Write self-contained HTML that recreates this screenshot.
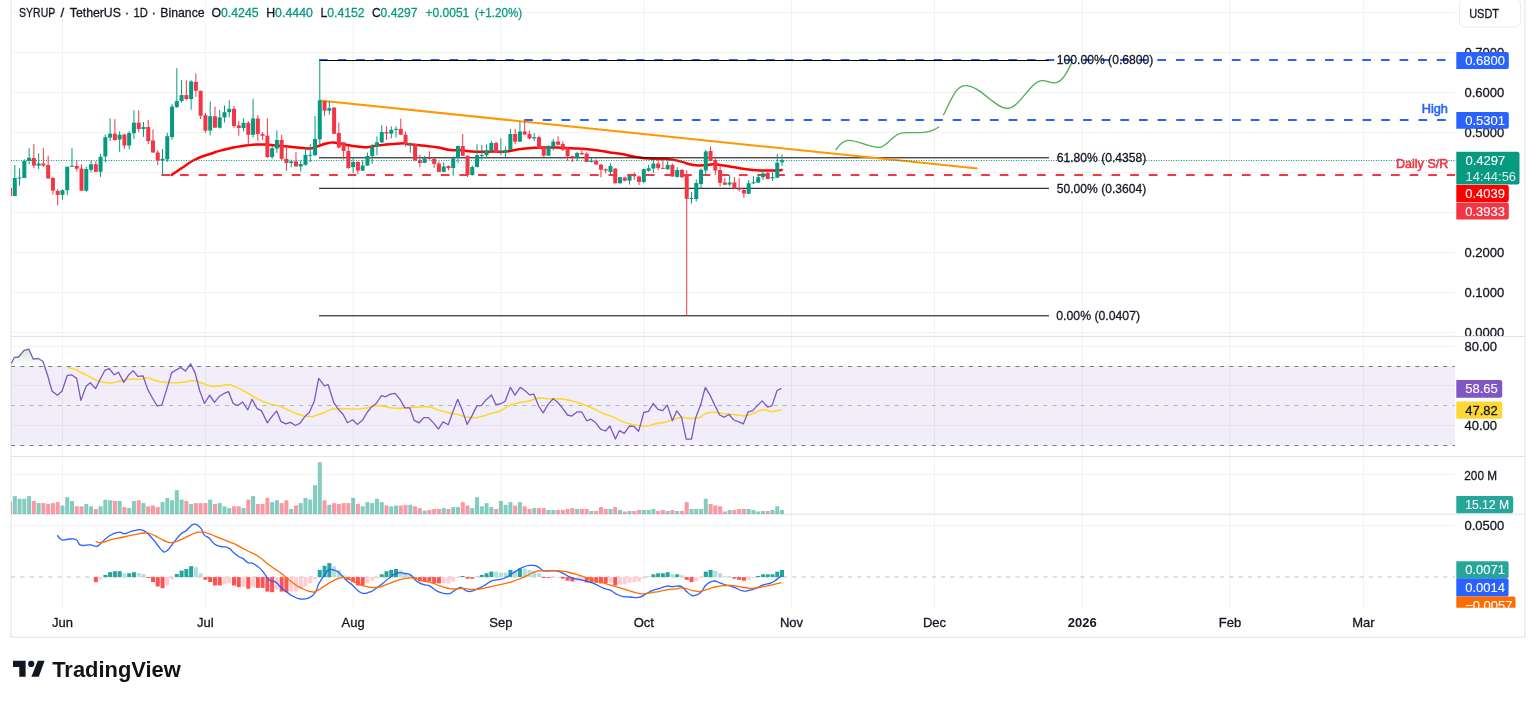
<!DOCTYPE html><html><head><meta charset="utf-8"><style>
html,body{margin:0;padding:0;background:#fff;}body{width:1536px;height:701px;overflow:hidden;position:relative;font-family:"Liberation Sans", sans-serif;}
svg{position:absolute;left:0;top:0;filter:blur(0.35px);}
</style></head><body>
<svg width="1536" height="701" viewBox="0 0 1536 701" font-family='"Liberation Sans", sans-serif'>
<defs><clipPath id="cp"><rect x="11" y="0" width="1444" height="336"/></clipPath><clipPath id="cr"><rect x="11" y="337" width="1444" height="119"/></clipPath><clipPath id="cv"><rect x="11" y="457" width="1444" height="57"/></clipPath><clipPath id="cm"><rect x="11" y="515" width="1444" height="92"/></clipPath><clipPath id="ca"><rect x="1455" y="515" width="70" height="92.7"/></clipPath><linearGradient id="ob" x1="0" y1="0" x2="0" y2="1"><stop offset="0" stop-color="#4caf50" stop-opacity="0.25"/><stop offset="1" stop-color="#4caf50" stop-opacity="0"/></linearGradient></defs>
<rect x="61.95" y="0" width="1" height="608" fill="#f1f2f3"/>
<rect x="204.91" y="0" width="1" height="608" fill="#f1f2f3"/>
<rect x="352.64" y="0" width="1" height="608" fill="#f1f2f3"/>
<rect x="500.37" y="0" width="1" height="608" fill="#f1f2f3"/>
<rect x="643.33" y="0" width="1" height="608" fill="#f1f2f3"/>
<rect x="791.06" y="0" width="1" height="608" fill="#f1f2f3"/>
<rect x="934.02" y="0" width="1" height="608" fill="#f1f2f3"/>
<rect x="1081.75" y="0" width="1" height="608" fill="#f1f2f3"/>
<rect x="1229.48" y="0" width="1" height="608" fill="#f1f2f3"/>
<rect x="1362.91" y="0" width="1" height="608" fill="#f1f2f3"/>
<rect x="11" y="12" width="1444" height="1" fill="#f1f2f3"/>
<rect x="11" y="52" width="1444" height="1" fill="#f1f2f3"/>
<rect x="11" y="92" width="1444" height="1" fill="#f1f2f3"/>
<rect x="11" y="132" width="1444" height="1" fill="#f1f2f3"/>
<rect x="11" y="172" width="1444" height="1" fill="#f1f2f3"/>
<rect x="11" y="212" width="1444" height="1" fill="#f1f2f3"/>
<rect x="11" y="252" width="1444" height="1" fill="#f1f2f3"/>
<rect x="11" y="292" width="1444" height="1" fill="#f1f2f3"/>
<rect x="11" y="332" width="1444" height="1" fill="#f1f2f3"/>
<rect x="11" y="346" width="1444" height="1" fill="#f1f2f3"/>
<rect x="11" y="385" width="1444" height="1" fill="#f1f2f3"/>
<rect x="11" y="425" width="1444" height="1" fill="#f1f2f3"/>
<rect x="11" y="474" width="1444" height="1" fill="#f1f2f3"/>
<rect x="11" y="525" width="1444" height="1" fill="#f1f2f3"/>
<rect x="10" y="0" width="2" height="638" fill="#f1f1f1"/>
<rect x="1524" y="0" width="1.6" height="638" fill="#ececec"/>
<rect x="10" y="636.6" width="1515.6" height="1.4" fill="#ececec"/>
<rect x="11" y="335.9" width="1513" height="1.1" fill="#e0e3eb"/>
<rect x="11" y="455.9" width="1513" height="1.1" fill="#e0e3eb"/>
<rect x="11" y="513.6" width="1513" height="1.1" fill="#e0e3eb"/>
<g clip-path="url(#cp)">
<path fill="none" stroke="#ff0000" stroke-width="2.5" stroke-linejoin="round" stroke-linecap="round" d="M171.7,175 C175.47,172.43 175.13,172.47 183,167.3 C190.87,162.13 186.3,163.93 195.3,159.5 C204.3,155.07 200.43,157.23 210,154 C219.57,150.77 212.13,152.6 224,149.8 C235.87,147 232.7,147.37 245.6,145.6 C258.5,143.83 254.23,144.7 262.7,144.5 C271.17,144.3 262.57,144.3 271,145 C279.43,145.7 278.33,145.67 288,146.6 C297.67,147.53 292.2,147.27 300,147.8 C307.8,148.33 305.23,148.8 311.4,148.2 C317.57,147.6 312.8,147.73 318.5,146 C324.2,144.27 322.3,144 328.5,143 C334.7,142 330.9,142.33 337.1,143 C343.3,143.67 339.5,143.73 347.1,145 C354.7,146.27 352.77,146.13 359.9,146.8 C367.03,147.47 361.83,147.5 368.5,147 C375.17,146.5 369.43,146.47 379.9,145.3 C390.37,144.13 390.4,143.87 399.9,143.5 C409.4,143.13 401.27,143.5 408.4,144.2 C415.53,144.9 411.8,144.57 421.3,145.6 C430.8,146.63 427.33,145.87 436.9,147.3 C446.47,148.73 441.93,148.9 450,149.9 C458.07,150.9 453.73,149.73 461.1,150.3 C468.47,150.87 464.73,151.1 472.1,151.6 C479.47,152.1 475.8,151.8 483.2,151.8 C490.6,151.8 486.93,151.67 494.3,151.6 C501.67,151.53 497.93,152.23 505.3,151.6 C512.67,150.97 509,150.8 516.4,149.7 C523.8,148.6 520.13,148.97 527.5,148.3 C534.87,147.63 531.13,147.97 538.5,147.7 C545.87,147.43 542.2,147.5 549.6,147.5 C557,147.5 553.33,147.43 560.7,147.7 C568.07,147.97 564.33,147.93 571.7,148.3 C579.07,148.67 575.4,148.27 582.8,148.8 C590.2,149.33 586.5,149 593.9,149.9 C601.3,150.8 598.97,150.53 605,151.5 C611.03,152.47 606.43,151.97 612,152.8 C617.57,153.63 614.57,152.77 621.7,154 C628.83,155.23 625.57,155.1 633.4,156.5 C641.23,157.9 637.37,157.43 645.2,158.2 C653.03,158.97 649.1,158.43 656.9,158.8 C664.7,159.17 660.8,158.43 668.6,159.3 C676.4,160.17 672.5,159.6 680.3,161.4 C688.1,163.2 684.17,163.43 692,164.7 C699.83,165.97 696.77,165.33 703.8,165.2 C710.83,165.07 707.27,164.3 713.1,164.3 C718.93,164.3 714.67,164.3 721.3,165.2 C727.93,166.1 725.17,165.73 733,167 C740.83,168.27 736.97,167.93 744.8,169 C752.63,170.07 748.7,169.7 756.5,170.2 C764.3,170.7 762.33,170.4 768.2,170.5 C774.07,170.6 769.6,170.67 774.1,170.5 C778.6,170.33 779.17,170.17 781.7,170"/>
<line x1="319" y1="60" x2="1455" y2="60" stroke="#2962ff" stroke-width="2" stroke-dasharray="8.7 9.93"/>
<line x1="524.2" y1="120" x2="1455" y2="120" stroke="#2962ff" stroke-width="2" stroke-dasharray="8.7 9.93"/>
<line x1="161.4" y1="175" x2="1455" y2="175" stroke="#f23645" stroke-width="2" stroke-dasharray="8.7 9.93"/>
<line x1="319" y1="60.5" x2="1049" y2="60.5" stroke="#000" stroke-width="1"/>
<line x1="319" y1="157.8" x2="1049" y2="157.8" stroke="#000" stroke-width="1"/>
<line x1="319" y1="188.3" x2="1049" y2="188.3" stroke="#000" stroke-width="1"/>
<line x1="319" y1="315.8" x2="1049" y2="315.8" stroke="#000" stroke-width="1"/>
<line x1="319.8" y1="100.5" x2="977.5" y2="168.5" stroke="#ff9800" stroke-width="2"/>
<path d="M835.5,150.2 C839,145 843,140.5 848.5,140.4 C858,140.3 870,147.8 879.3,147.3 C888,146.8 892,133.5 903,132.8 C912,132.2 918,133.2 924,132.4 C930,131.5 936,129 939.1,126.7" fill="none" stroke="#4caf50" stroke-width="1.3"/>
<path d="M943.2,115.3 C950,103 955,86 964.9,85.6 C980,85 995,108.5 1007.1,108.5 C1020,108.5 1030,80.6 1042.5,80.6 C1048,80.6 1050,83.5 1055,82.9 C1063,82 1068,70 1072.2,62" fill="none" stroke="#4caf50" stroke-width="1.3"/>
<rect x="9.53" y="186" width="1" height="11" fill="#f23645"/>
<rect x="8.03" y="188" width="4" height="8" fill="#f23645"/>
<rect x="14.3" y="165.1" width="1" height="30.9" fill="#089981"/>
<rect x="12.8" y="178" width="4" height="18" fill="#089981"/>
<rect x="19.06" y="168.5" width="1" height="17.3" fill="#089981"/>
<rect x="17.56" y="177.5" width="4" height="1" fill="#089981"/>
<rect x="23.83" y="159.3" width="1" height="18.7" fill="#089981"/>
<rect x="22.33" y="160.9" width="4" height="17.1" fill="#089981"/>
<rect x="28.6" y="148.2" width="1" height="16.1" fill="#089981"/>
<rect x="27.1" y="157.7" width="4" height="3.2" fill="#089981"/>
<rect x="33.36" y="143.9" width="1" height="24.3" fill="#f23645"/>
<rect x="31.86" y="158" width="4" height="7.6" fill="#f23645"/>
<rect x="38.13" y="153.3" width="1" height="15.7" fill="#089981"/>
<rect x="36.63" y="163.5" width="4" height="2.1" fill="#089981"/>
<rect x="42.89" y="148.2" width="1" height="18.5" fill="#f23645"/>
<rect x="41.39" y="163.5" width="4" height="2.1" fill="#f23645"/>
<rect x="47.66" y="155.7" width="1" height="23.3" fill="#f23645"/>
<rect x="46.16" y="165" width="4" height="13.4" fill="#f23645"/>
<rect x="52.42" y="176.5" width="1" height="18.1" fill="#f23645"/>
<rect x="50.92" y="178" width="4" height="12.7" fill="#f23645"/>
<rect x="57.19" y="189" width="1" height="16.4" fill="#f23645"/>
<rect x="55.69" y="191" width="4" height="3.9" fill="#f23645"/>
<rect x="61.95" y="189.4" width="1" height="10.2" fill="#089981"/>
<rect x="60.45" y="190.2" width="4" height="4.7" fill="#089981"/>
<rect x="66.72" y="166.7" width="1" height="28.5" fill="#089981"/>
<rect x="65.22" y="166.7" width="4" height="23.5" fill="#089981"/>
<rect x="71.48" y="148.2" width="1" height="18.5" fill="#089981"/>
<rect x="69.98" y="165.7" width="4" height="1" fill="#089981"/>
<rect x="76.25" y="160" width="1" height="11.4" fill="#f23645"/>
<rect x="74.75" y="165.9" width="4" height="2.8" fill="#f23645"/>
<rect x="81.01" y="164.3" width="1" height="26.7" fill="#f23645"/>
<rect x="79.51" y="168.5" width="4" height="22.2" fill="#f23645"/>
<rect x="85.78" y="166.7" width="1" height="25.1" fill="#089981"/>
<rect x="84.28" y="169" width="4" height="21.7" fill="#089981"/>
<rect x="90.55" y="160.4" width="1" height="12.1" fill="#089981"/>
<rect x="89.05" y="164.3" width="4" height="5.5" fill="#089981"/>
<rect x="95.31" y="161.2" width="1" height="10.8" fill="#f23645"/>
<rect x="93.81" y="164.3" width="4" height="7.5" fill="#f23645"/>
<rect x="100.08" y="154.1" width="1" height="22.8" fill="#089981"/>
<rect x="98.58" y="156.8" width="4" height="15" fill="#089981"/>
<rect x="104.84" y="134.5" width="1" height="27.5" fill="#089981"/>
<rect x="103.34" y="137.2" width="4" height="19.3" fill="#089981"/>
<rect x="109.61" y="118.5" width="1" height="22.5" fill="#089981"/>
<rect x="108.11" y="133.7" width="4" height="3.9" fill="#089981"/>
<rect x="114.37" y="119.1" width="1" height="21.7" fill="#f23645"/>
<rect x="112.87" y="133.7" width="4" height="6.3" fill="#f23645"/>
<rect x="119.14" y="131.4" width="1" height="20.4" fill="#089981"/>
<rect x="117.64" y="134.8" width="4" height="4.7" fill="#089981"/>
<rect x="123.9" y="133.7" width="1" height="14.9" fill="#f23645"/>
<rect x="122.4" y="134.5" width="4" height="11" fill="#f23645"/>
<rect x="128.67" y="131" width="1" height="18.4" fill="#089981"/>
<rect x="127.17" y="133" width="4" height="12.5" fill="#089981"/>
<rect x="133.43" y="110.2" width="1" height="29" fill="#089981"/>
<rect x="131.93" y="122.7" width="4" height="10.6" fill="#089981"/>
<rect x="138.2" y="110.2" width="1" height="22" fill="#f23645"/>
<rect x="136.7" y="122.7" width="4" height="6.3" fill="#f23645"/>
<rect x="142.96" y="122" width="1" height="14.9" fill="#089981"/>
<rect x="141.46" y="127" width="4" height="2" fill="#089981"/>
<rect x="147.73" y="120" width="1" height="24.2" fill="#f23645"/>
<rect x="146.23" y="127" width="4" height="14.1" fill="#f23645"/>
<rect x="152.5" y="129.5" width="1" height="23" fill="#f23645"/>
<rect x="151" y="140.5" width="4" height="12" fill="#f23645"/>
<rect x="157.26" y="150.2" width="1" height="14.9" fill="#f23645"/>
<rect x="155.76" y="152.5" width="4" height="7.9" fill="#f23645"/>
<rect x="162.03" y="149" width="1" height="26.3" fill="#089981"/>
<rect x="160.53" y="158.8" width="4" height="1.6" fill="#089981"/>
<rect x="166.79" y="132.8" width="1" height="29.2" fill="#089981"/>
<rect x="165.29" y="136.2" width="4" height="23.2" fill="#089981"/>
<rect x="171.56" y="104.2" width="1" height="35.5" fill="#089981"/>
<rect x="170.06" y="106.6" width="4" height="30.4" fill="#089981"/>
<rect x="176.32" y="68.2" width="1" height="39.8" fill="#089981"/>
<rect x="174.82" y="101.1" width="4" height="6" fill="#089981"/>
<rect x="181.09" y="80.2" width="1" height="22.3" fill="#089981"/>
<rect x="179.59" y="95.1" width="4" height="6" fill="#089981"/>
<rect x="185.85" y="80.2" width="1" height="20.1" fill="#f23645"/>
<rect x="184.35" y="95.1" width="4" height="3.9" fill="#f23645"/>
<rect x="190.62" y="80.2" width="1" height="29.5" fill="#089981"/>
<rect x="189.12" y="81.4" width="4" height="17.6" fill="#089981"/>
<rect x="195.38" y="73.4" width="1" height="23.4" fill="#f23645"/>
<rect x="193.88" y="81.9" width="4" height="8.9" fill="#f23645"/>
<rect x="200.15" y="90.5" width="1" height="28.6" fill="#f23645"/>
<rect x="198.65" y="90.8" width="4" height="24.9" fill="#f23645"/>
<rect x="204.91" y="113.1" width="1" height="19.7" fill="#f23645"/>
<rect x="203.41" y="115.2" width="4" height="15.4" fill="#f23645"/>
<rect x="209.68" y="101.5" width="1" height="33.9" fill="#089981"/>
<rect x="208.18" y="116.2" width="4" height="14.4" fill="#089981"/>
<rect x="214.45" y="106.6" width="1" height="21.1" fill="#f23645"/>
<rect x="212.95" y="116.2" width="4" height="11.5" fill="#f23645"/>
<rect x="219.21" y="110" width="1" height="18.5" fill="#089981"/>
<rect x="217.71" y="117.4" width="4" height="10.3" fill="#089981"/>
<rect x="223.98" y="105.4" width="1" height="17.1" fill="#089981"/>
<rect x="222.48" y="112.2" width="4" height="5.2" fill="#089981"/>
<rect x="228.74" y="100.3" width="1" height="17.1" fill="#089981"/>
<rect x="227.24" y="108.8" width="4" height="3.4" fill="#089981"/>
<rect x="233.51" y="105.9" width="1" height="21.8" fill="#f23645"/>
<rect x="232.01" y="108.8" width="4" height="17.2" fill="#f23645"/>
<rect x="238.27" y="121" width="1" height="14.7" fill="#f23645"/>
<rect x="236.77" y="125.4" width="4" height="2.6" fill="#f23645"/>
<rect x="243.04" y="118.5" width="1" height="12.9" fill="#089981"/>
<rect x="241.54" y="122.8" width="4" height="5.2" fill="#089981"/>
<rect x="247.8" y="121" width="1" height="24" fill="#f23645"/>
<rect x="246.3" y="122.8" width="4" height="12" fill="#f23645"/>
<rect x="252.57" y="98.8" width="1" height="38.6" fill="#089981"/>
<rect x="251.07" y="118.5" width="4" height="16.3" fill="#089981"/>
<rect x="257.33" y="115.1" width="1" height="25.7" fill="#f23645"/>
<rect x="255.83" y="118.5" width="4" height="15.5" fill="#f23645"/>
<rect x="262.1" y="132" width="1" height="8" fill="#f23645"/>
<rect x="260.6" y="134" width="4" height="1.7" fill="#f23645"/>
<rect x="266.87" y="118.5" width="1" height="39.5" fill="#f23645"/>
<rect x="265.37" y="135.7" width="4" height="21.3" fill="#f23645"/>
<rect x="271.63" y="146" width="1" height="12.8" fill="#089981"/>
<rect x="270.13" y="148.2" width="4" height="8.8" fill="#089981"/>
<rect x="276.4" y="130.5" width="1" height="22.3" fill="#089981"/>
<rect x="274.9" y="140" width="4" height="8.5" fill="#089981"/>
<rect x="281.16" y="134.8" width="1" height="25.7" fill="#f23645"/>
<rect x="279.66" y="140" width="4" height="18.8" fill="#f23645"/>
<rect x="285.93" y="146" width="1" height="24.8" fill="#f23645"/>
<rect x="284.43" y="158.8" width="4" height="4.2" fill="#f23645"/>
<rect x="290.69" y="159.6" width="1" height="7.8" fill="#089981"/>
<rect x="289.19" y="161.4" width="4" height="1.6" fill="#089981"/>
<rect x="295.46" y="152" width="1" height="14.5" fill="#f23645"/>
<rect x="293.96" y="161.4" width="4" height="5.1" fill="#f23645"/>
<rect x="300.22" y="160.5" width="1" height="11.1" fill="#089981"/>
<rect x="298.72" y="164" width="4" height="2.5" fill="#089981"/>
<rect x="304.99" y="147.7" width="1" height="17.9" fill="#089981"/>
<rect x="303.49" y="154.8" width="4" height="10" fill="#089981"/>
<rect x="309.75" y="144.2" width="1" height="18" fill="#089981"/>
<rect x="308.25" y="154.8" width="4" height="1" fill="#089981"/>
<rect x="314.52" y="115.8" width="1" height="40.2" fill="#089981"/>
<rect x="313.02" y="139" width="4" height="16.2" fill="#089981"/>
<rect x="319.28" y="59.8" width="1" height="84.2" fill="#089981"/>
<rect x="317.78" y="100.4" width="4" height="38.9" fill="#089981"/>
<rect x="324.05" y="100.9" width="1" height="14.9" fill="#f23645"/>
<rect x="322.55" y="101.2" width="4" height="9.5" fill="#f23645"/>
<rect x="328.82" y="101.2" width="1" height="13.4" fill="#089981"/>
<rect x="327.32" y="108.1" width="4" height="2.6" fill="#089981"/>
<rect x="333.58" y="107.2" width="1" height="26.8" fill="#f23645"/>
<rect x="332.08" y="107.6" width="4" height="26.2" fill="#f23645"/>
<rect x="338.35" y="122.6" width="1" height="25.7" fill="#f23645"/>
<rect x="336.85" y="133" width="4" height="14.5" fill="#f23645"/>
<rect x="343.11" y="142.3" width="1" height="17.2" fill="#f23645"/>
<rect x="341.61" y="142.3" width="4" height="8.6" fill="#f23645"/>
<rect x="347.88" y="145.8" width="1" height="23.1" fill="#f23645"/>
<rect x="346.38" y="150.9" width="4" height="17.1" fill="#f23645"/>
<rect x="352.64" y="156.9" width="1" height="16.3" fill="#089981"/>
<rect x="351.14" y="162" width="4" height="5.2" fill="#089981"/>
<rect x="357.41" y="161.2" width="1" height="12.8" fill="#f23645"/>
<rect x="355.91" y="162" width="4" height="8.6" fill="#f23645"/>
<rect x="362.17" y="160.3" width="1" height="10.7" fill="#089981"/>
<rect x="360.67" y="165.5" width="4" height="5.1" fill="#089981"/>
<rect x="366.94" y="152.6" width="1" height="13.4" fill="#089981"/>
<rect x="365.44" y="156" width="4" height="9.5" fill="#089981"/>
<rect x="371.7" y="144" width="1" height="19.7" fill="#089981"/>
<rect x="370.2" y="146.6" width="4" height="9.4" fill="#089981"/>
<rect x="376.47" y="136.4" width="1" height="18.8" fill="#089981"/>
<rect x="374.97" y="142.3" width="4" height="4.3" fill="#089981"/>
<rect x="381.23" y="125.2" width="1" height="17.8" fill="#089981"/>
<rect x="379.73" y="132" width="4" height="10.3" fill="#089981"/>
<rect x="386" y="126.2" width="1" height="13.8" fill="#f23645"/>
<rect x="384.5" y="132" width="4" height="1.5" fill="#f23645"/>
<rect x="390.77" y="126.3" width="1" height="12.2" fill="#089981"/>
<rect x="389.27" y="129.8" width="4" height="3.8" fill="#089981"/>
<rect x="395.53" y="126.3" width="1" height="11.2" fill="#089981"/>
<rect x="394.03" y="128.9" width="4" height="1" fill="#089981"/>
<rect x="400.3" y="118.6" width="1" height="16.4" fill="#f23645"/>
<rect x="398.8" y="128.9" width="4" height="5.8" fill="#f23645"/>
<rect x="405.06" y="131.5" width="1" height="15" fill="#f23645"/>
<rect x="403.56" y="134.7" width="4" height="9.6" fill="#f23645"/>
<rect x="409.83" y="142.4" width="1" height="10.2" fill="#089981"/>
<rect x="408.33" y="143.6" width="4" height="1" fill="#089981"/>
<rect x="414.59" y="144.3" width="1" height="17.1" fill="#f23645"/>
<rect x="413.09" y="144.3" width="4" height="16" fill="#f23645"/>
<rect x="419.36" y="155" width="1" height="12.4" fill="#f23645"/>
<rect x="417.86" y="160.3" width="4" height="2.6" fill="#f23645"/>
<rect x="424.12" y="156" width="1" height="7" fill="#089981"/>
<rect x="422.62" y="158.4" width="4" height="4.5" fill="#089981"/>
<rect x="428.89" y="151.3" width="1" height="8.4" fill="#f23645"/>
<rect x="427.39" y="158" width="4" height="1" fill="#f23645"/>
<rect x="433.65" y="158" width="1" height="9.8" fill="#f23645"/>
<rect x="432.15" y="158.8" width="4" height="5.1" fill="#f23645"/>
<rect x="438.42" y="161.4" width="1" height="10.7" fill="#f23645"/>
<rect x="436.92" y="163.5" width="4" height="8.4" fill="#f23645"/>
<rect x="443.18" y="162.3" width="1" height="9.9" fill="#089981"/>
<rect x="441.68" y="166.5" width="4" height="5.4" fill="#089981"/>
<rect x="447.95" y="165.5" width="1" height="4.8" fill="#f23645"/>
<rect x="446.45" y="166.1" width="4" height="1.9" fill="#f23645"/>
<rect x="452.72" y="156.5" width="1" height="19.2" fill="#089981"/>
<rect x="451.22" y="158.4" width="4" height="9.6" fill="#089981"/>
<rect x="457.48" y="145.6" width="1" height="17.3" fill="#089981"/>
<rect x="455.98" y="146" width="4" height="11.8" fill="#089981"/>
<rect x="462.25" y="134" width="1" height="22" fill="#f23645"/>
<rect x="460.75" y="146" width="4" height="9.8" fill="#f23645"/>
<rect x="467.01" y="155.2" width="1" height="21.8" fill="#f23645"/>
<rect x="465.51" y="155.8" width="4" height="19.3" fill="#f23645"/>
<rect x="471.78" y="165.5" width="1" height="10" fill="#089981"/>
<rect x="470.28" y="167" width="4" height="8.1" fill="#089981"/>
<rect x="476.54" y="144.3" width="1" height="23.2" fill="#089981"/>
<rect x="475.04" y="155.2" width="4" height="11.8" fill="#089981"/>
<rect x="481.31" y="144.9" width="1" height="14.8" fill="#089981"/>
<rect x="479.81" y="155" width="4" height="1" fill="#089981"/>
<rect x="486.07" y="144.3" width="1" height="13.5" fill="#089981"/>
<rect x="484.57" y="150.4" width="4" height="4.8" fill="#089981"/>
<rect x="490.84" y="140.8" width="1" height="11.8" fill="#089981"/>
<rect x="489.34" y="143" width="4" height="7.7" fill="#089981"/>
<rect x="495.6" y="141.7" width="1" height="10.9" fill="#f23645"/>
<rect x="494.1" y="143" width="4" height="9.4" fill="#f23645"/>
<rect x="500.37" y="138.3" width="1" height="16.9" fill="#089981"/>
<rect x="498.87" y="151.3" width="4" height="1.1" fill="#089981"/>
<rect x="505.13" y="146.5" width="1" height="10.6" fill="#089981"/>
<rect x="503.63" y="150" width="4" height="2.4" fill="#089981"/>
<rect x="509.9" y="128.9" width="1" height="21.6" fill="#089981"/>
<rect x="508.4" y="134" width="4" height="16" fill="#089981"/>
<rect x="514.67" y="128.9" width="1" height="15.4" fill="#f23645"/>
<rect x="513.17" y="134" width="4" height="7.7" fill="#f23645"/>
<rect x="519.43" y="122.1" width="1" height="19.9" fill="#089981"/>
<rect x="517.93" y="131.5" width="4" height="10.2" fill="#089981"/>
<rect x="524.2" y="119.9" width="1" height="15" fill="#f23645"/>
<rect x="522.7" y="131.5" width="4" height="2.9" fill="#f23645"/>
<rect x="528.96" y="130.6" width="1" height="8.6" fill="#f23645"/>
<rect x="527.46" y="134" width="4" height="4.5" fill="#f23645"/>
<rect x="533.73" y="133.1" width="1" height="7.9" fill="#089981"/>
<rect x="532.23" y="137.2" width="4" height="1.3" fill="#089981"/>
<rect x="538.49" y="135.7" width="1" height="13.1" fill="#f23645"/>
<rect x="536.99" y="137.2" width="4" height="11.4" fill="#f23645"/>
<rect x="543.26" y="146" width="1" height="10.9" fill="#f23645"/>
<rect x="541.76" y="146.6" width="4" height="9" fill="#f23645"/>
<rect x="548.02" y="145.3" width="1" height="10.5" fill="#089981"/>
<rect x="546.52" y="145.9" width="4" height="9.7" fill="#089981"/>
<rect x="552.79" y="138.9" width="1" height="11.5" fill="#089981"/>
<rect x="551.29" y="141.5" width="4" height="5.1" fill="#089981"/>
<rect x="557.55" y="136.3" width="1" height="9" fill="#f23645"/>
<rect x="556.05" y="141.5" width="4" height="3.2" fill="#f23645"/>
<rect x="562.32" y="141.5" width="1" height="9.5" fill="#f23645"/>
<rect x="560.82" y="144" width="4" height="5.8" fill="#f23645"/>
<rect x="567.09" y="147.2" width="1" height="13.5" fill="#f23645"/>
<rect x="565.59" y="147.9" width="4" height="8.3" fill="#f23645"/>
<rect x="571.85" y="155.6" width="1" height="6.4" fill="#f23645"/>
<rect x="570.35" y="156.2" width="4" height="1" fill="#f23645"/>
<rect x="576.62" y="151.7" width="1" height="9.4" fill="#089981"/>
<rect x="575.12" y="153" width="4" height="4.5" fill="#089981"/>
<rect x="581.38" y="147.9" width="1" height="7" fill="#f23645"/>
<rect x="579.88" y="153" width="4" height="1.3" fill="#f23645"/>
<rect x="586.15" y="152.4" width="1" height="9.8" fill="#f23645"/>
<rect x="584.65" y="153.6" width="4" height="8.4" fill="#f23645"/>
<rect x="590.91" y="158.1" width="1" height="4.5" fill="#089981"/>
<rect x="589.41" y="160.7" width="4" height="1.3" fill="#089981"/>
<rect x="595.68" y="159.4" width="1" height="5.4" fill="#f23645"/>
<rect x="594.18" y="160.7" width="4" height="3.9" fill="#f23645"/>
<rect x="600.44" y="163.9" width="1" height="13.5" fill="#f23645"/>
<rect x="598.94" y="164.6" width="4" height="5.1" fill="#f23645"/>
<rect x="605.21" y="168.4" width="1" height="5.1" fill="#f23645"/>
<rect x="603.71" y="169.3" width="4" height="1.3" fill="#f23645"/>
<rect x="609.97" y="163.3" width="1" height="11.5" fill="#089981"/>
<rect x="608.47" y="166" width="4" height="6" fill="#089981"/>
<rect x="614.74" y="168.3" width="1" height="15.2" fill="#f23645"/>
<rect x="613.24" y="168.5" width="4" height="14.8" fill="#f23645"/>
<rect x="619.5" y="176.9" width="1" height="6.7" fill="#089981"/>
<rect x="618" y="177.2" width="4" height="6.1" fill="#089981"/>
<rect x="624.27" y="176.9" width="1" height="4.4" fill="#f23645"/>
<rect x="622.77" y="177.5" width="4" height="3.2" fill="#f23645"/>
<rect x="629.04" y="174.9" width="1" height="9.7" fill="#089981"/>
<rect x="627.54" y="176" width="4" height="4.7" fill="#089981"/>
<rect x="633.8" y="172.4" width="1" height="7.4" fill="#f23645"/>
<rect x="632.3" y="174.3" width="4" height="1.9" fill="#f23645"/>
<rect x="638.57" y="175.6" width="1" height="9.3" fill="#f23645"/>
<rect x="637.07" y="176.5" width="4" height="5.5" fill="#f23645"/>
<rect x="643.33" y="168.5" width="1" height="14.8" fill="#089981"/>
<rect x="641.83" y="169.2" width="4" height="12.8" fill="#089981"/>
<rect x="648.1" y="164.7" width="1" height="7" fill="#089981"/>
<rect x="646.6" y="168.3" width="4" height="2.5" fill="#089981"/>
<rect x="652.86" y="159.3" width="1" height="13.7" fill="#089981"/>
<rect x="651.36" y="163.6" width="4" height="4.9" fill="#089981"/>
<rect x="657.63" y="159.3" width="1" height="11.1" fill="#f23645"/>
<rect x="656.13" y="163.6" width="4" height="4.3" fill="#f23645"/>
<rect x="662.39" y="159.8" width="1" height="8.8" fill="#f23645"/>
<rect x="660.89" y="167.9" width="4" height="1" fill="#f23645"/>
<rect x="667.16" y="160.8" width="1" height="9" fill="#089981"/>
<rect x="665.66" y="164.9" width="4" height="4.3" fill="#089981"/>
<rect x="671.92" y="163.6" width="1" height="13" fill="#f23645"/>
<rect x="670.42" y="164.9" width="4" height="11.6" fill="#f23645"/>
<rect x="676.69" y="167.2" width="1" height="10.3" fill="#089981"/>
<rect x="675.19" y="170" width="4" height="6.9" fill="#089981"/>
<rect x="681.45" y="169.2" width="1" height="8.9" fill="#f23645"/>
<rect x="679.95" y="169.8" width="4" height="7.4" fill="#f23645"/>
<rect x="686.22" y="170.2" width="1" height="145.6" fill="#f23645"/>
<rect x="684.72" y="174.2" width="4" height="24.6" fill="#f23645"/>
<rect x="690.99" y="192" width="1" height="11.5" fill="#089981"/>
<rect x="689.49" y="198" width="4" height="1" fill="#089981"/>
<rect x="695.75" y="179.5" width="1" height="22" fill="#089981"/>
<rect x="694.25" y="183" width="4" height="16" fill="#089981"/>
<rect x="700.52" y="168.5" width="1" height="20" fill="#089981"/>
<rect x="699.02" y="169.8" width="4" height="14.2" fill="#089981"/>
<rect x="705.28" y="150" width="1" height="25.5" fill="#089981"/>
<rect x="703.78" y="151.5" width="4" height="19" fill="#089981"/>
<rect x="710.05" y="146.5" width="1" height="15" fill="#f23645"/>
<rect x="708.55" y="151" width="4" height="9.8" fill="#f23645"/>
<rect x="714.81" y="157" width="1" height="18" fill="#f23645"/>
<rect x="713.31" y="160" width="4" height="10.5" fill="#f23645"/>
<rect x="719.58" y="166.5" width="1" height="20" fill="#f23645"/>
<rect x="718.08" y="170" width="4" height="12.8" fill="#f23645"/>
<rect x="724.34" y="178" width="1" height="7" fill="#f23645"/>
<rect x="722.84" y="182.5" width="4" height="2.3" fill="#f23645"/>
<rect x="729.11" y="175" width="1" height="11.5" fill="#089981"/>
<rect x="727.61" y="182.5" width="4" height="2" fill="#089981"/>
<rect x="733.87" y="177" width="1" height="12" fill="#f23645"/>
<rect x="732.37" y="182.5" width="4" height="6" fill="#f23645"/>
<rect x="738.64" y="178" width="1" height="13.5" fill="#f23645"/>
<rect x="737.14" y="188.5" width="4" height="1" fill="#f23645"/>
<rect x="743.4" y="188.4" width="1" height="9.4" fill="#f23645"/>
<rect x="741.9" y="190" width="4" height="3.5" fill="#f23645"/>
<rect x="748.17" y="180.2" width="1" height="13.8" fill="#089981"/>
<rect x="746.67" y="183.2" width="4" height="10.6" fill="#089981"/>
<rect x="752.94" y="176.1" width="1" height="8" fill="#089981"/>
<rect x="751.44" y="182.1" width="4" height="1.1" fill="#089981"/>
<rect x="757.7" y="173.8" width="1" height="9.2" fill="#089981"/>
<rect x="756.2" y="177.2" width="4" height="5.4" fill="#089981"/>
<rect x="762.47" y="170.4" width="1" height="9.4" fill="#089981"/>
<rect x="760.97" y="173.4" width="4" height="3.8" fill="#089981"/>
<rect x="767.23" y="170.8" width="1" height="8.4" fill="#f23645"/>
<rect x="765.73" y="173" width="4" height="6" fill="#f23645"/>
<rect x="772" y="170.4" width="1" height="10.5" fill="#089981"/>
<rect x="770.5" y="177.2" width="4" height="1.2" fill="#089981"/>
<rect x="776.76" y="154.1" width="1" height="23.9" fill="#089981"/>
<rect x="775.26" y="162.7" width="4" height="15" fill="#089981"/>
<rect x="781.53" y="154.4" width="1" height="11.5" fill="#089981"/>
<rect x="780.03" y="160.1" width="4" height="2.1" fill="#089981"/>
<line x1="11" y1="160.5" x2="1455" y2="160.5" stroke="#089981" stroke-width="1" stroke-dasharray="1 1.5"/>
</g>
<text x="1056.8" y="64.2" font-size="13" fill="#131722" font-weight="normal" textLength="96.5" lengthAdjust="spacingAndGlyphs" stroke="#131722" stroke-width="0.3">100.00% (0.6800)</text>
<text x="1056.8" y="162" font-size="13" fill="#131722" font-weight="normal" textLength="89.5" lengthAdjust="spacingAndGlyphs" stroke="#131722" stroke-width="0.3">61.80% (0.4358)</text>
<text x="1056.8" y="192.6" font-size="13" fill="#131722" font-weight="normal" textLength="89.5" lengthAdjust="spacingAndGlyphs" stroke="#131722" stroke-width="0.3">50.00% (0.3604)</text>
<text x="1056.3" y="320" font-size="13" fill="#131722" font-weight="normal" textLength="83.8" lengthAdjust="spacingAndGlyphs" stroke="#131722" stroke-width="0.3">0.00% (0.0407)</text>
<text x="1421.7" y="112.8" font-size="12" fill="#2962ff" font-weight="normal" textLength="26.3" lengthAdjust="spacingAndGlyphs" stroke="#2962ff" stroke-width="0.55">High</text>
<text x="1396" y="168.1" font-size="12" fill="#f23645" font-weight="normal" textLength="52.3" lengthAdjust="spacingAndGlyphs" stroke="#f23645" stroke-width="0.55">Daily S/R</text>
<g clip-path="url(#cr)">
<rect x="11" y="366" width="1444" height="80" fill="#7e57c2" fill-opacity="0.1"/>
<polygon points="11,366 11.3,363.5 14.4,357.3 18.6,357 23.8,350.7 28.8,349.1 33.2,359.1 38.2,358.5 42.9,361.2 47.6,366 47.6,366" fill="url(#ob)"/>
<line x1="11" y1="366.5" x2="1455" y2="366.5" stroke="#787b86" stroke-width="1" stroke-dasharray="4 5.3"/>
<line x1="11" y1="405.5" x2="1455" y2="405.5" stroke="#787b86" stroke-opacity="0.5" stroke-width="1" stroke-dasharray="4 5.3"/>
<line x1="11" y1="445.5" x2="1455" y2="445.5" stroke="#787b86" stroke-width="1" stroke-dasharray="4 5.3"/>
<path fill="none" stroke="#fdd835" stroke-width="1.6" stroke-linejoin="round" d="M67.3,367.5 C70.17,368.27 71.47,368.23 75.9,369.8 C80.33,371.37 75.9,369.83 80.6,372.2 C85.3,374.57 84,373.93 90,376.9 C96,379.87 92.83,379.17 98.6,381.1 C104.37,383.03 102.33,382.17 107.3,382.7 C112.27,383.23 109.33,383.23 113.5,382.7 C117.67,382.17 114.57,382.27 119.8,381.1 C125.03,379.93 121.87,379.83 129.2,379.2 C136.53,378.57 135.63,379.6 141.8,379.2 C147.97,378.8 142.47,377.37 147.7,378 C152.93,378.63 151.1,379.63 157.5,381.1 C163.9,382.57 160.73,381.87 166.9,382.4 C173.07,382.93 169.83,382.83 176,382.7 C182.17,382.57 179.4,382.63 185.4,382 C191.4,381.37 187.47,380.07 194,380.8 C200.53,381.53 197.93,382.37 205,384.2 C212.07,386.03 207.63,386.13 215.2,386.3 C222.77,386.47 221.43,384.7 227.7,384.7 C233.97,384.7 227.7,383.7 234,386.3 C240.3,388.9 238.23,388.07 246.6,392.5 C254.97,396.93 251.8,395.93 259.1,399.6 C266.4,403.27 261.17,401.13 268.5,403.5 C275.83,405.87 271.67,403.3 281.1,406.7 C290.53,410.1 287.4,410.43 296.8,413.7 C306.2,416.97 303.03,415.87 309.3,416.5 C315.57,417.13 310.37,417.03 315.6,415.6 C320.83,414.17 320.4,413.97 325,412.2 C329.6,410.43 325.3,411.47 329.4,410.3 C333.5,409.13 326.83,409.23 337.3,408.7 C347.77,408.17 348.8,409.53 360.8,408.7 C372.8,407.87 366.5,407.13 373.3,406.2 C380.1,405.27 373.87,405.23 381.2,405.9 C388.53,406.57 386.43,407.67 395.3,408.2 C404.17,408.73 399.43,407.87 407.8,407.5 C416.17,407.13 413.07,407.23 420.4,407.1 C427.73,406.97 423.53,406.03 429.8,407.1 C436.07,408.17 431.87,408.2 439.2,410.3 C446.53,412.4 445.53,412 451.8,413.4 C458.07,414.8 451.73,413.1 458,414.5 C464.27,415.9 462.83,416.93 470.6,417.6 C478.37,418.27 474.6,417.9 481.3,416.5 C488,415.1 484.43,415.27 490.7,413.4 C496.97,411.53 493.83,413.5 500.1,410.9 C506.37,408.3 502.7,408.43 509.5,405.6 C516.3,402.77 514.23,403.87 520.5,402.4 C526.77,400.93 522.57,402.53 528.3,401.2 C534.03,399.87 531.4,399.2 537.7,398.4 C544,397.6 540.9,398.67 547.2,398.8 C553.5,398.93 550.33,398.53 556.6,398.8 C562.87,399.07 559.73,398.53 566,399.6 C572.27,400.67 569.13,400.17 575.4,402 C581.67,403.83 578.53,402.77 584.8,405.1 C591.07,407.43 587.93,406.13 594.2,409 C600.47,411.87 597.33,411.07 603.6,413.7 C609.87,416.33 606.7,414.27 613,416.9 C619.3,419.53 616.83,419.27 622.5,421.6 C628.17,423.93 624.37,422.6 630,423.9 C635.63,425.2 633.63,424.8 639.4,425.5 C645.17,426.2 642.07,426.53 647.3,426 C652.53,425.47 649.37,425.1 655.1,423.9 C660.83,422.7 659.27,423.6 664.5,422.4 C669.73,421.2 665.03,421.9 670.8,420.3 C676.57,418.7 675.53,418.23 681.8,417.6 C688.07,416.97 684.9,418.23 689.6,418.4 C694.3,418.57 692.23,418.6 695.9,418.1 C699.57,417.6 697.47,418.37 700.6,416.9 C703.73,415.43 701.13,415.27 705.3,413.7 C709.47,412.13 708.93,412.47 713.1,412.2 C717.27,411.93 714.13,412.4 717.8,412.9 C721.47,413.4 718.87,413.17 724.1,413.7 C729.33,414.23 728.27,413.97 733.5,414.5 C738.73,415.03 735.6,414.93 739.8,415.3 C744,415.67 740.87,416.53 746.1,415.6 C751.33,414.67 749.77,414.43 755.5,412.5 C761.23,410.57 758.07,410.17 763.3,409.8 C768.53,409.43 766.47,411.13 771.2,411.4 C775.93,411.67 774.1,411.07 777.5,410.6 C780.9,410.13 780.1,410.2 781.4,410"/>
<polyline fill="none" stroke="#7e57c2" stroke-width="1.3" stroke-linejoin="round" points="11.3,363.5 14.4,357.3 18.6,357 23.8,350.7 28.8,349.1 33.2,359.1 38.2,358.5 42.9,361.2 47.6,375.3 52,391 57.4,395.2 62.1,391 67.3,375.3 71.5,374.8 76.7,378.4 80.9,400.4 86.1,386.3 90.3,382.7 95.5,388.6 100.2,379.2 104.9,370.3 109.1,368.5 114.3,374.8 118.5,372.2 123.7,382.4 128.4,375.3 133.1,370.6 137.8,376.4 143,375.8 147.7,389.4 152.4,398 157.1,405.9 161.8,405.1 166.9,388.6 171.6,372.9 176.3,369.8 180.7,367.5 185.4,371.1 190.6,363.8 195.1,372.9 199.8,391 204.5,403.5 209.7,395.2 214.4,402.4 219.6,396.2 224.3,393.3 228.5,391.5 233.2,403.5 237.9,405.6 242.6,402 247.8,409.8 252.1,399.3 257.2,408.7 261.5,410.9 267.3,422.8 271.7,416.9 276.7,410.9 280.8,421.3 285.8,423.9 290.5,422.4 295.5,425.5 300.2,423.1 304.6,416.9 309.3,412.5 314.3,401.2 318.7,378.4 324.4,385.8 328.2,384.7 333.8,402.7 338.8,409.8 343.2,414.5 347.5,422.8 352.6,419.7 357.3,424.4 362.4,420.3 367.1,412.5 371.8,406.7 376.2,403.5 381.5,395.7 385.6,396.8 390.3,394.1 395,393.3 400,399.3 404.7,407.8 409.7,407.8 414.1,420.3 419.1,422.8 423.8,417.6 428.5,417.6 433.7,423.1 438.4,429.1 443.1,421.9 448.3,424.7 453,411.4 457.7,399.3 462.4,410.6 467.1,424.4 471.8,416.1 476.9,405.9 481.3,405.6 486,399.9 491.5,394.9 495.7,404.3 500.4,404 505.1,401.2 510.3,387.4 515,395.2 520.2,387.4 524.9,390.5 529.6,394.9 533.8,394.1 539,406.7 543.2,412.9 547.9,404.6 553.1,398.8 557.4,402 562.5,408.2 567.5,415 571.9,416.1 577.3,411.8 581.7,411.8 586.7,420.8 591.1,419.2 595.8,422.8 600.5,429.1 605.5,431 609.9,426 615.4,439.1 619.3,430.7 624.3,433.3 629.5,426 633.9,426.3 638.6,431.3 643.8,412.5 648.5,411.4 653.2,403.5 657.9,409.3 662.6,410.6 667.3,405.1 672.4,420.8 676.7,410.9 681.5,417.2 686.2,439.1 691.5,439.1 695.6,418.1 700.6,405.1 705.3,387.4 710.3,395.7 714.7,405.1 719.7,415 724.1,417.2 729.1,414.5 733.8,420 738.5,421.6 743.3,423.9 748,412.2 752.7,410.6 757.4,405.6 762.1,400.9 767.7,407.1 772,405.6 777.1,390.5 781.4,388.4"/>
</g>
<g clip-path="url(#cv)">
<rect x="8.03" y="501.9" width="4" height="12.1" fill="rgba(242,54,69,0.5)"/>
<rect x="12.8" y="496.1" width="4" height="17.9" fill="rgba(8,153,129,0.5)"/>
<rect x="17.56" y="498.8" width="4" height="15.2" fill="rgba(8,153,129,0.5)"/>
<rect x="22.33" y="498.8" width="4" height="15.2" fill="rgba(8,153,129,0.5)"/>
<rect x="27.1" y="496.1" width="4" height="17.9" fill="rgba(8,153,129,0.5)"/>
<rect x="31.86" y="501" width="4" height="13" fill="rgba(242,54,69,0.5)"/>
<rect x="36.63" y="503.1" width="4" height="10.9" fill="rgba(8,153,129,0.5)"/>
<rect x="41.39" y="503.1" width="4" height="10.9" fill="rgba(242,54,69,0.5)"/>
<rect x="46.16" y="504" width="4" height="10" fill="rgba(242,54,69,0.5)"/>
<rect x="50.92" y="503.1" width="4" height="10.9" fill="rgba(242,54,69,0.5)"/>
<rect x="55.69" y="502.1" width="4" height="11.9" fill="rgba(242,54,69,0.5)"/>
<rect x="60.45" y="505.5" width="4" height="8.5" fill="rgba(8,153,129,0.5)"/>
<rect x="65.22" y="497.2" width="4" height="16.8" fill="rgba(8,153,129,0.5)"/>
<rect x="69.98" y="501" width="4" height="13" fill="rgba(8,153,129,0.5)"/>
<rect x="74.75" y="506.3" width="4" height="7.7" fill="rgba(242,54,69,0.5)"/>
<rect x="79.51" y="506.3" width="4" height="7.7" fill="rgba(242,54,69,0.5)"/>
<rect x="84.28" y="504" width="4" height="10" fill="rgba(8,153,129,0.5)"/>
<rect x="89.05" y="506.3" width="4" height="7.7" fill="rgba(8,153,129,0.5)"/>
<rect x="93.81" y="509" width="4" height="5" fill="rgba(242,54,69,0.5)"/>
<rect x="98.58" y="506.3" width="4" height="7.7" fill="rgba(8,153,129,0.5)"/>
<rect x="103.34" y="499.8" width="4" height="14.2" fill="rgba(8,153,129,0.5)"/>
<rect x="108.11" y="500.3" width="4" height="13.7" fill="rgba(8,153,129,0.5)"/>
<rect x="112.87" y="501" width="4" height="13" fill="rgba(242,54,69,0.5)"/>
<rect x="117.64" y="501" width="4" height="13" fill="rgba(8,153,129,0.5)"/>
<rect x="122.4" y="507.1" width="4" height="6.9" fill="rgba(242,54,69,0.5)"/>
<rect x="127.17" y="508.1" width="4" height="5.9" fill="rgba(8,153,129,0.5)"/>
<rect x="131.93" y="501" width="4" height="13" fill="rgba(8,153,129,0.5)"/>
<rect x="136.7" y="500.3" width="4" height="13.7" fill="rgba(242,54,69,0.5)"/>
<rect x="141.46" y="503.1" width="4" height="10.9" fill="rgba(8,153,129,0.5)"/>
<rect x="146.23" y="506.3" width="4" height="7.7" fill="rgba(242,54,69,0.5)"/>
<rect x="151" y="505.5" width="4" height="8.5" fill="rgba(242,54,69,0.5)"/>
<rect x="155.76" y="507.1" width="4" height="6.9" fill="rgba(242,54,69,0.5)"/>
<rect x="160.53" y="502.1" width="4" height="11.9" fill="rgba(8,153,129,0.5)"/>
<rect x="165.29" y="497.9" width="4" height="16.1" fill="rgba(8,153,129,0.5)"/>
<rect x="170.06" y="500.3" width="4" height="13.7" fill="rgba(8,153,129,0.5)"/>
<rect x="174.82" y="490.2" width="4" height="23.8" fill="rgba(8,153,129,0.5)"/>
<rect x="179.59" y="499.6" width="4" height="14.4" fill="rgba(8,153,129,0.5)"/>
<rect x="184.35" y="501" width="4" height="13" fill="rgba(242,54,69,0.5)"/>
<rect x="189.12" y="504" width="4" height="10" fill="rgba(8,153,129,0.5)"/>
<rect x="193.88" y="503.1" width="4" height="10.9" fill="rgba(242,54,69,0.5)"/>
<rect x="198.65" y="503.1" width="4" height="10.9" fill="rgba(242,54,69,0.5)"/>
<rect x="203.41" y="503.1" width="4" height="10.9" fill="rgba(242,54,69,0.5)"/>
<rect x="208.18" y="499.6" width="4" height="14.4" fill="rgba(8,153,129,0.5)"/>
<rect x="212.95" y="504" width="4" height="10" fill="rgba(242,54,69,0.5)"/>
<rect x="217.71" y="503.1" width="4" height="10.9" fill="rgba(8,153,129,0.5)"/>
<rect x="222.48" y="506.3" width="4" height="7.7" fill="rgba(8,153,129,0.5)"/>
<rect x="227.24" y="508.1" width="4" height="5.9" fill="rgba(8,153,129,0.5)"/>
<rect x="232.01" y="506.3" width="4" height="7.7" fill="rgba(242,54,69,0.5)"/>
<rect x="236.77" y="506.3" width="4" height="7.7" fill="rgba(242,54,69,0.5)"/>
<rect x="241.54" y="508.1" width="4" height="5.9" fill="rgba(8,153,129,0.5)"/>
<rect x="246.3" y="499.6" width="4" height="14.4" fill="rgba(242,54,69,0.5)"/>
<rect x="251.07" y="496.1" width="4" height="17.9" fill="rgba(8,153,129,0.5)"/>
<rect x="255.83" y="504" width="4" height="10" fill="rgba(242,54,69,0.5)"/>
<rect x="260.6" y="504" width="4" height="10" fill="rgba(242,54,69,0.5)"/>
<rect x="265.37" y="497.9" width="4" height="16.1" fill="rgba(242,54,69,0.5)"/>
<rect x="270.13" y="502.1" width="4" height="11.9" fill="rgba(8,153,129,0.5)"/>
<rect x="274.9" y="500.3" width="4" height="13.7" fill="rgba(8,153,129,0.5)"/>
<rect x="279.66" y="503.1" width="4" height="10.9" fill="rgba(242,54,69,0.5)"/>
<rect x="284.43" y="500.3" width="4" height="13.7" fill="rgba(242,54,69,0.5)"/>
<rect x="289.19" y="509" width="4" height="5" fill="rgba(8,153,129,0.5)"/>
<rect x="293.96" y="505.5" width="4" height="8.5" fill="rgba(242,54,69,0.5)"/>
<rect x="298.72" y="503.1" width="4" height="10.9" fill="rgba(8,153,129,0.5)"/>
<rect x="303.49" y="497.9" width="4" height="16.1" fill="rgba(8,153,129,0.5)"/>
<rect x="308.25" y="499.6" width="4" height="14.4" fill="rgba(8,153,129,0.5)"/>
<rect x="313.02" y="485.2" width="4" height="28.8" fill="rgba(8,153,129,0.5)"/>
<rect x="317.78" y="462.3" width="4" height="51.7" fill="rgba(8,153,129,0.5)"/>
<rect x="322.55" y="500.3" width="4" height="13.7" fill="rgba(242,54,69,0.5)"/>
<rect x="327.32" y="504.8" width="4" height="9.2" fill="rgba(8,153,129,0.5)"/>
<rect x="332.08" y="503.1" width="4" height="10.9" fill="rgba(242,54,69,0.5)"/>
<rect x="336.85" y="504" width="4" height="10" fill="rgba(242,54,69,0.5)"/>
<rect x="341.61" y="503.1" width="4" height="10.9" fill="rgba(242,54,69,0.5)"/>
<rect x="346.38" y="503.1" width="4" height="10.9" fill="rgba(242,54,69,0.5)"/>
<rect x="351.14" y="497.9" width="4" height="16.1" fill="rgba(8,153,129,0.5)"/>
<rect x="355.91" y="504" width="4" height="10" fill="rgba(242,54,69,0.5)"/>
<rect x="360.67" y="506.3" width="4" height="7.7" fill="rgba(8,153,129,0.5)"/>
<rect x="365.44" y="502.1" width="4" height="11.9" fill="rgba(8,153,129,0.5)"/>
<rect x="370.2" y="503.1" width="4" height="10.9" fill="rgba(8,153,129,0.5)"/>
<rect x="374.97" y="498.8" width="4" height="15.2" fill="rgba(8,153,129,0.5)"/>
<rect x="379.73" y="502.1" width="4" height="11.9" fill="rgba(8,153,129,0.5)"/>
<rect x="384.5" y="505.5" width="4" height="8.5" fill="rgba(242,54,69,0.5)"/>
<rect x="389.27" y="506.3" width="4" height="7.7" fill="rgba(8,153,129,0.5)"/>
<rect x="394.03" y="505.5" width="4" height="8.5" fill="rgba(8,153,129,0.5)"/>
<rect x="398.8" y="505.5" width="4" height="8.5" fill="rgba(242,54,69,0.5)"/>
<rect x="403.56" y="504.8" width="4" height="9.2" fill="rgba(242,54,69,0.5)"/>
<rect x="408.33" y="504.8" width="4" height="9.2" fill="rgba(8,153,129,0.5)"/>
<rect x="413.09" y="506.3" width="4" height="7.7" fill="rgba(242,54,69,0.5)"/>
<rect x="417.86" y="508.1" width="4" height="5.9" fill="rgba(242,54,69,0.5)"/>
<rect x="422.62" y="510.7" width="4" height="3.3" fill="rgba(8,153,129,0.5)"/>
<rect x="427.39" y="510" width="4" height="4" fill="rgba(242,54,69,0.5)"/>
<rect x="432.15" y="509" width="4" height="5" fill="rgba(242,54,69,0.5)"/>
<rect x="436.92" y="509" width="4" height="5" fill="rgba(242,54,69,0.5)"/>
<rect x="441.68" y="508.1" width="4" height="5.9" fill="rgba(8,153,129,0.5)"/>
<rect x="446.45" y="509" width="4" height="5" fill="rgba(242,54,69,0.5)"/>
<rect x="451.22" y="507.1" width="4" height="6.9" fill="rgba(8,153,129,0.5)"/>
<rect x="455.98" y="507.1" width="4" height="6.9" fill="rgba(8,153,129,0.5)"/>
<rect x="460.75" y="502.1" width="4" height="11.9" fill="rgba(242,54,69,0.5)"/>
<rect x="465.51" y="505.5" width="4" height="8.5" fill="rgba(242,54,69,0.5)"/>
<rect x="470.28" y="508.1" width="4" height="5.9" fill="rgba(8,153,129,0.5)"/>
<rect x="475.04" y="497.2" width="4" height="16.8" fill="rgba(8,153,129,0.5)"/>
<rect x="479.81" y="506.3" width="4" height="7.7" fill="rgba(8,153,129,0.5)"/>
<rect x="484.57" y="503.1" width="4" height="10.9" fill="rgba(8,153,129,0.5)"/>
<rect x="489.34" y="507.1" width="4" height="6.9" fill="rgba(8,153,129,0.5)"/>
<rect x="494.1" y="509" width="4" height="5" fill="rgba(242,54,69,0.5)"/>
<rect x="498.87" y="501" width="4" height="13" fill="rgba(8,153,129,0.5)"/>
<rect x="503.63" y="504.8" width="4" height="9.2" fill="rgba(8,153,129,0.5)"/>
<rect x="508.4" y="502.1" width="4" height="11.9" fill="rgba(8,153,129,0.5)"/>
<rect x="513.17" y="505.5" width="4" height="8.5" fill="rgba(242,54,69,0.5)"/>
<rect x="517.93" y="502.1" width="4" height="11.9" fill="rgba(8,153,129,0.5)"/>
<rect x="522.7" y="506.3" width="4" height="7.7" fill="rgba(242,54,69,0.5)"/>
<rect x="527.46" y="509" width="4" height="5" fill="rgba(242,54,69,0.5)"/>
<rect x="532.23" y="508.1" width="4" height="5.9" fill="rgba(8,153,129,0.5)"/>
<rect x="536.99" y="508.1" width="4" height="5.9" fill="rgba(242,54,69,0.5)"/>
<rect x="541.76" y="508.1" width="4" height="5.9" fill="rgba(242,54,69,0.5)"/>
<rect x="546.52" y="510" width="4" height="4" fill="rgba(8,153,129,0.5)"/>
<rect x="551.29" y="510" width="4" height="4" fill="rgba(8,153,129,0.5)"/>
<rect x="556.05" y="510" width="4" height="4" fill="rgba(242,54,69,0.5)"/>
<rect x="560.82" y="510" width="4" height="4" fill="rgba(242,54,69,0.5)"/>
<rect x="565.59" y="509" width="4" height="5" fill="rgba(242,54,69,0.5)"/>
<rect x="570.35" y="508.1" width="4" height="5.9" fill="rgba(242,54,69,0.5)"/>
<rect x="575.12" y="509" width="4" height="5" fill="rgba(8,153,129,0.5)"/>
<rect x="579.88" y="509" width="4" height="5" fill="rgba(242,54,69,0.5)"/>
<rect x="584.65" y="509" width="4" height="5" fill="rgba(242,54,69,0.5)"/>
<rect x="589.41" y="511" width="4" height="3" fill="rgba(8,153,129,0.5)"/>
<rect x="594.18" y="511" width="4" height="3" fill="rgba(242,54,69,0.5)"/>
<rect x="598.94" y="507.1" width="4" height="6.9" fill="rgba(242,54,69,0.5)"/>
<rect x="603.71" y="509" width="4" height="5" fill="rgba(242,54,69,0.5)"/>
<rect x="608.47" y="509" width="4" height="5" fill="rgba(8,153,129,0.5)"/>
<rect x="613.24" y="507.1" width="4" height="6.9" fill="rgba(242,54,69,0.5)"/>
<rect x="618" y="510" width="4" height="4" fill="rgba(8,153,129,0.5)"/>
<rect x="622.77" y="511.5" width="4" height="2.5" fill="rgba(242,54,69,0.5)"/>
<rect x="627.54" y="511" width="4" height="3" fill="rgba(8,153,129,0.5)"/>
<rect x="632.3" y="511" width="4" height="3" fill="rgba(242,54,69,0.5)"/>
<rect x="637.07" y="510" width="4" height="4" fill="rgba(242,54,69,0.5)"/>
<rect x="641.83" y="510" width="4" height="4" fill="rgba(8,153,129,0.5)"/>
<rect x="646.6" y="510" width="4" height="4" fill="rgba(8,153,129,0.5)"/>
<rect x="651.36" y="509" width="4" height="5" fill="rgba(8,153,129,0.5)"/>
<rect x="656.13" y="511" width="4" height="3" fill="rgba(242,54,69,0.5)"/>
<rect x="660.89" y="510" width="4" height="4" fill="rgba(242,54,69,0.5)"/>
<rect x="665.66" y="511" width="4" height="3" fill="rgba(8,153,129,0.5)"/>
<rect x="670.42" y="510" width="4" height="4" fill="rgba(242,54,69,0.5)"/>
<rect x="675.19" y="511" width="4" height="3" fill="rgba(8,153,129,0.5)"/>
<rect x="679.95" y="511" width="4" height="3" fill="rgba(242,54,69,0.5)"/>
<rect x="684.72" y="502.1" width="4" height="11.9" fill="rgba(242,54,69,0.5)"/>
<rect x="689.49" y="509" width="4" height="5" fill="rgba(8,153,129,0.5)"/>
<rect x="694.25" y="509" width="4" height="5" fill="rgba(8,153,129,0.5)"/>
<rect x="699.02" y="509" width="4" height="5" fill="rgba(8,153,129,0.5)"/>
<rect x="703.78" y="498.8" width="4" height="15.2" fill="rgba(8,153,129,0.5)"/>
<rect x="708.55" y="504" width="4" height="10" fill="rgba(242,54,69,0.5)"/>
<rect x="713.31" y="505.5" width="4" height="8.5" fill="rgba(242,54,69,0.5)"/>
<rect x="718.08" y="506.3" width="4" height="7.7" fill="rgba(242,54,69,0.5)"/>
<rect x="722.84" y="511.5" width="4" height="2.5" fill="rgba(242,54,69,0.5)"/>
<rect x="727.61" y="510" width="4" height="4" fill="rgba(8,153,129,0.5)"/>
<rect x="732.37" y="510" width="4" height="4" fill="rgba(242,54,69,0.5)"/>
<rect x="737.14" y="509" width="4" height="5" fill="rgba(242,54,69,0.5)"/>
<rect x="741.9" y="509" width="4" height="5" fill="rgba(242,54,69,0.5)"/>
<rect x="746.67" y="509" width="4" height="5" fill="rgba(8,153,129,0.5)"/>
<rect x="751.44" y="510" width="4" height="4" fill="rgba(8,153,129,0.5)"/>
<rect x="756.2" y="511.5" width="4" height="2.5" fill="rgba(8,153,129,0.5)"/>
<rect x="760.97" y="511" width="4" height="3" fill="rgba(8,153,129,0.5)"/>
<rect x="765.73" y="511" width="4" height="3" fill="rgba(242,54,69,0.5)"/>
<rect x="770.5" y="510" width="4" height="4" fill="rgba(8,153,129,0.5)"/>
<rect x="775.26" y="506.3" width="4" height="7.7" fill="rgba(8,153,129,0.5)"/>
<rect x="780.03" y="510" width="4" height="4" fill="rgba(8,153,129,0.5)"/>
</g>
<g clip-path="url(#cm)">
<line x1="11" y1="577" x2="1455" y2="577" stroke="#787b86" stroke-opacity="0.45" stroke-width="1.2" stroke-dasharray="4.2 5.1"/>
<rect x="93.81" y="577.1" width="4" height="5" fill="#ff5252"/>
<rect x="98.58" y="577.1" width="4" height="2.3" fill="#ffcdd2"/>
<rect x="103.34" y="574.9" width="4" height="2.2" fill="#26a69a"/>
<rect x="108.11" y="572.2" width="4" height="4.9" fill="#26a69a"/>
<rect x="112.87" y="571.2" width="4" height="5.9" fill="#26a69a"/>
<rect x="117.64" y="571.2" width="4" height="5.9" fill="#26a69a"/>
<rect x="122.4" y="573.3" width="4" height="3.8" fill="#b2dfdb"/>
<rect x="127.17" y="573.3" width="4" height="3.8" fill="#26a69a"/>
<rect x="131.93" y="572.2" width="4" height="4.9" fill="#26a69a"/>
<rect x="136.7" y="573" width="4" height="4.1" fill="#b2dfdb"/>
<rect x="141.46" y="574" width="4" height="3.1" fill="#b2dfdb"/>
<rect x="146.23" y="577.1" width="4" height="0.9" fill="#ff5252"/>
<rect x="151" y="577.1" width="4" height="5" fill="#ff5252"/>
<rect x="155.76" y="577.1" width="4" height="9.4" fill="#ff5252"/>
<rect x="160.53" y="577.1" width="4" height="11.1" fill="#ff5252"/>
<rect x="165.29" y="577.1" width="4" height="8.4" fill="#ffcdd2"/>
<rect x="170.06" y="577.1" width="4" height="2.3" fill="#ffcdd2"/>
<rect x="174.82" y="574" width="4" height="3.1" fill="#26a69a"/>
<rect x="179.59" y="570.6" width="4" height="6.5" fill="#26a69a"/>
<rect x="184.35" y="569" width="4" height="8.1" fill="#26a69a"/>
<rect x="189.12" y="566.2" width="4" height="10.9" fill="#26a69a"/>
<rect x="193.88" y="567.2" width="4" height="9.9" fill="#b2dfdb"/>
<rect x="198.65" y="573.3" width="4" height="3.8" fill="#b2dfdb"/>
<rect x="203.41" y="577.1" width="4" height="2.7" fill="#ff5252"/>
<rect x="208.18" y="577.1" width="4" height="5" fill="#ff5252"/>
<rect x="212.95" y="577.1" width="4" height="8.4" fill="#ff5252"/>
<rect x="217.71" y="577.1" width="4" height="8.4" fill="#ff5252"/>
<rect x="222.48" y="577.1" width="4" height="7.3" fill="#ffcdd2"/>
<rect x="227.24" y="577.1" width="4" height="6.3" fill="#ffcdd2"/>
<rect x="232.01" y="577.1" width="4" height="8.4" fill="#ff5252"/>
<rect x="236.77" y="577.1" width="4" height="10" fill="#ff5252"/>
<rect x="241.54" y="577.1" width="4" height="9.7" fill="#ffcdd2"/>
<rect x="246.3" y="577.1" width="4" height="11.7" fill="#ff5252"/>
<rect x="251.07" y="577.1" width="4" height="9.7" fill="#ffcdd2"/>
<rect x="255.83" y="577.1" width="4" height="10.8" fill="#ff5252"/>
<rect x="260.6" y="577.1" width="4" height="10.8" fill="#ff5252"/>
<rect x="265.37" y="577.1" width="4" height="14.5" fill="#ff5252"/>
<rect x="270.13" y="577.1" width="4" height="15.1" fill="#ff5252"/>
<rect x="274.9" y="577.1" width="4" height="12.2" fill="#ffcdd2"/>
<rect x="279.66" y="577.1" width="4" height="14.5" fill="#ff5252"/>
<rect x="284.43" y="577.1" width="4" height="15.1" fill="#ff5252"/>
<rect x="289.19" y="577.1" width="4" height="14.5" fill="#ffcdd2"/>
<rect x="293.96" y="577.1" width="4" height="14.5" fill="#ffcdd2"/>
<rect x="298.72" y="577.1" width="4" height="11.7" fill="#ffcdd2"/>
<rect x="303.49" y="577.1" width="4" height="9.4" fill="#ffcdd2"/>
<rect x="308.25" y="577.1" width="4" height="6.3" fill="#ffcdd2"/>
<rect x="313.02" y="577.1" width="4" height="2.3" fill="#ffcdd2"/>
<rect x="317.78" y="569.9" width="4" height="7.2" fill="#26a69a"/>
<rect x="322.55" y="565.8" width="4" height="11.3" fill="#26a69a"/>
<rect x="327.32" y="563.1" width="4" height="14" fill="#26a69a"/>
<rect x="332.08" y="566.5" width="4" height="10.6" fill="#b2dfdb"/>
<rect x="336.85" y="569.9" width="4" height="7.2" fill="#b2dfdb"/>
<rect x="341.61" y="575.3" width="4" height="1.8" fill="#b2dfdb"/>
<rect x="346.38" y="577.1" width="4" height="2.7" fill="#ff5252"/>
<rect x="351.14" y="577.1" width="4" height="5" fill="#ff5252"/>
<rect x="355.91" y="577.1" width="4" height="8.4" fill="#ff5252"/>
<rect x="360.67" y="577.1" width="4" height="8.4" fill="#ff5252"/>
<rect x="365.44" y="577.1" width="4" height="6.3" fill="#ffcdd2"/>
<rect x="370.2" y="577.1" width="4" height="3.6" fill="#ffcdd2"/>
<rect x="374.97" y="577.1" width="4" height="1.1" fill="#ffcdd2"/>
<rect x="379.73" y="574.3" width="4" height="2.8" fill="#26a69a"/>
<rect x="384.5" y="571.2" width="4" height="5.9" fill="#26a69a"/>
<rect x="389.27" y="569.9" width="4" height="7.2" fill="#26a69a"/>
<rect x="394.03" y="569" width="4" height="8.1" fill="#26a69a"/>
<rect x="398.8" y="570.3" width="4" height="6.8" fill="#b2dfdb"/>
<rect x="403.56" y="572.6" width="4" height="4.5" fill="#b2dfdb"/>
<rect x="408.33" y="574.6" width="4" height="2.5" fill="#b2dfdb"/>
<rect x="413.09" y="577.1" width="4" height="1.9" fill="#ff5252"/>
<rect x="417.86" y="577.1" width="4" height="4.3" fill="#ff5252"/>
<rect x="422.62" y="577.1" width="4" height="4.3" fill="#ff5252"/>
<rect x="427.39" y="577.1" width="4" height="4.3" fill="#ff5252"/>
<rect x="432.15" y="577.1" width="4" height="6.3" fill="#ff5252"/>
<rect x="436.92" y="577.1" width="4" height="6.3" fill="#ff5252"/>
<rect x="441.68" y="577.1" width="4" height="6.3" fill="#ffcdd2"/>
<rect x="446.45" y="577.1" width="4" height="6.3" fill="#ffcdd2"/>
<rect x="451.22" y="577.1" width="4" height="4.3" fill="#ffcdd2"/>
<rect x="455.98" y="577.1" width="4" height="0.9" fill="#ffcdd2"/>
<rect x="460.75" y="576" width="4" height="1.1" fill="#26a69a"/>
<rect x="465.51" y="577.1" width="4" height="1.6" fill="#ff5252"/>
<rect x="470.28" y="577.1" width="4" height="1.6" fill="#ff5252"/>
<rect x="475.04" y="576.2" width="4" height="0.9" fill="#b2dfdb"/>
<rect x="479.81" y="574.9" width="4" height="2.2" fill="#26a69a"/>
<rect x="484.57" y="573.3" width="4" height="3.8" fill="#26a69a"/>
<rect x="489.34" y="571.6" width="4" height="5.5" fill="#26a69a"/>
<rect x="494.1" y="571.6" width="4" height="5.5" fill="#b2dfdb"/>
<rect x="498.87" y="572.6" width="4" height="4.5" fill="#b2dfdb"/>
<rect x="503.63" y="572.6" width="4" height="4.5" fill="#b2dfdb"/>
<rect x="508.4" y="569.9" width="4" height="7.2" fill="#26a69a"/>
<rect x="513.17" y="570.8" width="4" height="6.3" fill="#b2dfdb"/>
<rect x="517.93" y="568.5" width="4" height="8.6" fill="#26a69a"/>
<rect x="522.7" y="568.5" width="4" height="8.6" fill="#b2dfdb"/>
<rect x="527.46" y="569.9" width="4" height="7.2" fill="#b2dfdb"/>
<rect x="532.23" y="571.2" width="4" height="5.9" fill="#b2dfdb"/>
<rect x="536.99" y="573.3" width="4" height="3.8" fill="#b2dfdb"/>
<rect x="541.76" y="577.1" width="4" height="0.9" fill="#ff5252"/>
<rect x="546.52" y="577.1" width="4" height="0.9" fill="#ff5252"/>
<rect x="551.29" y="576.7" width="4" height="0.4" fill="#b2dfdb"/>
<rect x="556.05" y="577.1" width="4" height="0.9" fill="#ffcdd2"/>
<rect x="560.82" y="577.1" width="4" height="1.6" fill="#ff5252"/>
<rect x="565.59" y="577.1" width="4" height="3.6" fill="#ff5252"/>
<rect x="570.35" y="577.1" width="4" height="4.3" fill="#ff5252"/>
<rect x="575.12" y="577.1" width="4" height="4.3" fill="#ffcdd2"/>
<rect x="579.88" y="577.1" width="4" height="4.3" fill="#ffcdd2"/>
<rect x="584.65" y="577.1" width="4" height="5.4" fill="#ff5252"/>
<rect x="589.41" y="577.1" width="4" height="5.7" fill="#ff5252"/>
<rect x="594.18" y="577.1" width="4" height="5.7" fill="#ff5252"/>
<rect x="598.94" y="577.1" width="4" height="6.3" fill="#ff5252"/>
<rect x="603.71" y="577.1" width="4" height="6.3" fill="#ff5252"/>
<rect x="608.47" y="577.1" width="4" height="5.7" fill="#ffcdd2"/>
<rect x="613.24" y="577.1" width="4" height="8.4" fill="#ff5252"/>
<rect x="618" y="577.1" width="4" height="7.3" fill="#ffcdd2"/>
<rect x="622.77" y="577.1" width="4" height="7.3" fill="#ffcdd2"/>
<rect x="627.54" y="577.1" width="4" height="5.7" fill="#ffcdd2"/>
<rect x="632.3" y="577.1" width="4" height="5" fill="#ffcdd2"/>
<rect x="637.07" y="577.1" width="4" height="4.3" fill="#ffcdd2"/>
<rect x="641.83" y="577.1" width="4" height="1.6" fill="#ffcdd2"/>
<rect x="646.6" y="576.2" width="4" height="0.9" fill="#b2dfdb"/>
<rect x="651.36" y="574.3" width="4" height="2.8" fill="#26a69a"/>
<rect x="656.13" y="573.3" width="4" height="3.8" fill="#26a69a"/>
<rect x="660.89" y="573.3" width="4" height="3.8" fill="#26a69a"/>
<rect x="665.66" y="572.2" width="4" height="4.9" fill="#26a69a"/>
<rect x="670.42" y="574.3" width="4" height="2.8" fill="#b2dfdb"/>
<rect x="675.19" y="574.3" width="4" height="2.8" fill="#26a69a"/>
<rect x="679.95" y="575.3" width="4" height="1.8" fill="#b2dfdb"/>
<rect x="684.72" y="577.1" width="4" height="2.7" fill="#ff5252"/>
<rect x="689.49" y="577.1" width="4" height="5" fill="#ff5252"/>
<rect x="694.25" y="577.1" width="4" height="4.3" fill="#ffcdd2"/>
<rect x="699.02" y="577.1" width="4" height="0.9" fill="#ffcdd2"/>
<rect x="703.78" y="571.6" width="4" height="5.5" fill="#26a69a"/>
<rect x="708.55" y="569.9" width="4" height="7.2" fill="#26a69a"/>
<rect x="713.31" y="570.8" width="4" height="6.3" fill="#b2dfdb"/>
<rect x="718.08" y="573.3" width="4" height="3.8" fill="#b2dfdb"/>
<rect x="722.84" y="576.2" width="4" height="0.9" fill="#b2dfdb"/>
<rect x="727.61" y="576.6" width="4" height="0.5" fill="#b2dfdb"/>
<rect x="732.37" y="577.1" width="4" height="1.6" fill="#ff5252"/>
<rect x="737.14" y="577.1" width="4" height="2.7" fill="#ff5252"/>
<rect x="741.9" y="577.1" width="4" height="3.6" fill="#ff5252"/>
<rect x="746.67" y="577.1" width="4" height="2.7" fill="#ffcdd2"/>
<rect x="751.44" y="577.1" width="4" height="0.9" fill="#ffcdd2"/>
<rect x="756.2" y="576" width="4" height="1.1" fill="#26a69a"/>
<rect x="760.97" y="574.3" width="4" height="2.8" fill="#26a69a"/>
<rect x="765.73" y="574.3" width="4" height="2.8" fill="#26a69a"/>
<rect x="770.5" y="574.3" width="4" height="2.8" fill="#26a69a"/>
<rect x="775.26" y="571.6" width="4" height="5.5" fill="#26a69a"/>
<rect x="780.03" y="569.9" width="4" height="7.2" fill="#26a69a"/>
<path fill="none" stroke="#2962ff" stroke-width="1.3" stroke-linejoin="round" d="M57.3,535.3 C58.55,536.5 58.67,538.81 62,539.8 C65.33,540.79 65.99,539.03 69.8,539 C73.61,538.97 73.39,538.07 76.3,539.7 C79.21,541.33 77.02,543.74 80.7,545.1 C84.38,546.46 86.13,544.51 90.1,544.8 C94.07,545.09 93.07,546.28 95.6,546.2 C98.13,546.12 96,547.22 99.6,544.5 C103.2,541.78 104.03,539.25 109.1,536 C114.17,532.75 114.63,532.91 118.6,532.3 C122.57,531.69 121.47,533.62 124,533.7 C126.53,533.78 125.38,533.43 128.1,532.6 C130.82,531.77 130.04,531.13 134.2,530.6 C138.36,530.07 138.82,528.44 143.7,530.6 C148.58,532.76 148.71,534.73 152.5,538.7 C156.29,542.67 155.21,542.25 157.9,545.5 C160.59,548.75 160.25,549.46 162.6,550.9 C164.95,552.34 163.63,553.25 166.7,550.9 C169.77,548.55 170.31,546.61 174.1,542.1 C177.89,537.59 177.65,537.07 180.9,534 C184.15,530.93 183.58,532.79 186.3,530.6 C189.02,528.41 188.75,527.51 191.1,525.8 C193.45,524.09 192.57,523.64 195.1,524.2 C197.63,524.76 198.23,525.13 200.6,527.9 C202.97,530.67 201.65,531.83 204,534.6 C206.35,537.37 206.71,535.87 209.4,538.3 C212.09,540.73 211.22,541.54 214.1,543.7 C216.98,545.86 216.41,545.31 220.2,546.4 C223.99,547.49 224.67,546.12 228.3,547.8 C231.93,549.48 230.68,550.17 233.8,552.7 C236.92,555.23 237.52,555.73 240,557.3 C242.48,558.87 240.99,557.16 243.1,558.6 C245.21,560.04 245.55,561.5 247.9,562.7 C250.25,563.9 249.55,562.27 251.9,563.1 C254.25,563.93 253.98,563.8 256.7,565.8 C259.42,567.8 259.22,567.35 262.1,570.6 C264.98,573.85 265.26,575.31 267.5,578 C269.74,580.69 268.31,579.61 270.5,580.7 C272.69,581.79 272.87,580.29 275.7,582.1 C278.53,583.91 277.5,584.35 281.1,587.5 C284.7,590.65 285.6,591.37 289.2,593.9 C292.8,596.43 291.53,595.64 294.6,597 C297.67,598.36 296.91,598.76 300.7,599 C304.49,599.24 304.99,599.53 308.8,597.9 C312.61,596.27 312.28,596.77 315,592.9 C317.72,589.03 316.49,588.09 319,583.4 C321.51,578.71 321.87,578.9 324.4,575.3 C326.93,571.7 326.31,571.34 328.5,569.9 C330.69,568.46 330.07,569.37 332.6,569.9 C335.13,570.43 334.4,569.21 338,571.9 C341.6,574.59 342.13,576.37 346.1,580 C350.07,583.63 349.65,582.59 352.9,585.5 C356.15,588.41 355.61,588.82 358.3,590.9 C360.99,592.98 360.12,592.95 363,593.3 C365.88,593.65 366.01,593.21 369.1,592.2 C372.19,591.19 370.97,591.85 374.6,589.5 C378.23,587.15 378.38,586.81 382.7,583.4 C387.02,579.99 386.83,579.47 390.8,576.7 C394.77,573.93 393.97,573.85 397.6,573 C401.23,572.15 400.96,572.99 404.4,573.5 C407.84,574.01 407.62,573.17 410.5,574.9 C413.38,576.63 412.85,577.89 415.2,580 C417.55,582.11 416.77,581.52 419.3,582.8 C421.83,584.08 421.85,583.92 424.7,584.8 C427.55,585.68 426.43,584.29 430,586.1 C433.57,587.91 433.41,589.52 438.1,591.6 C442.79,593.68 443.63,593.9 447.6,593.9 C451.57,593.9 450.09,593.12 453,591.6 C455.91,590.08 456.15,589.19 458.5,588.2 C460.85,587.21 459.64,587.18 461.8,587.9 C463.96,588.62 463.88,590.02 466.6,590.9 C469.32,591.78 468.75,591.92 472,591.2 C475.25,590.48 475.55,589.72 478.8,588.2 C482.05,586.68 480.6,587.5 484.2,585.5 C487.8,583.5 487.95,582.33 492.3,580.7 C496.65,579.07 496.87,580.31 500.5,579.4 C504.13,578.49 502.65,578.93 505.9,577.3 C509.15,575.67 508.01,576.1 512.7,573.3 C517.39,570.5 518.09,568.91 523.5,566.8 C528.91,564.69 529.03,565.29 533,565.4 C536.97,565.51 535.52,565.76 538.4,567.2 C541.28,568.64 540.17,569.84 543.8,570.8 C547.43,571.76 547.65,570.51 552,570.8 C556.35,571.09 555.06,570.09 560.1,571.9 C565.14,573.71 565.86,575.6 570.9,577.6 C575.94,579.6 574.65,578.39 579,579.4 C583.35,580.41 582.85,580.15 587.2,581.4 C591.55,582.65 590.98,582.29 595.3,584.1 C599.62,585.91 599.43,586.57 603.4,588.2 C607.37,589.83 606.95,588.76 610.2,590.2 C613.45,591.64 612.35,591.97 615.6,593.6 C618.85,595.23 618.56,595.39 622.4,596.3 C626.24,597.21 625.68,596.71 630,597 C634.32,597.29 634.52,598.12 638.6,597.4 C642.68,596.68 641.7,596.11 645.3,594.3 C648.9,592.49 648.47,592.12 652.1,590.6 C655.73,589.08 654.93,589.8 658.9,588.6 C662.87,587.4 663.4,586.58 667,586.1 C670.6,585.62 669.87,586.8 672.4,586.8 C674.93,586.8 673.97,586.1 676.5,586.1 C679.03,586.1 679.37,585.52 681.9,586.8 C684.43,588.08 683.47,588.66 686,590.9 C688.53,593.14 688.87,594.05 691.4,595.2 C693.93,596.35 692.97,596 695.5,595.2 C698.03,594.4 698.02,594.97 700.9,592.2 C703.78,589.43 703.05,587.76 706.3,584.8 C709.55,581.84 709.47,581.63 713.1,581.1 C716.73,580.57 716.65,581.81 719.9,582.8 C723.15,583.79 721.7,583.65 725.3,584.8 C728.9,585.95 728.71,585.47 733.4,587.1 C738.09,588.73 738.55,590.07 742.9,590.9 C747.25,591.73 746.1,590.92 749.7,590.2 C753.3,589.48 752.8,589.64 756.4,588.2 C760,586.76 759.23,586.24 763.2,584.8 C767.17,583.36 767.67,584.24 771.3,582.8 C774.93,581.36 774.08,581.35 776.8,579.4 C779.52,577.45 780.25,576.54 781.5,575.5"/>
<path fill="none" stroke="#ff6d00" stroke-width="1.3" stroke-linejoin="round" d="M95.6,541.4 C97.83,541.73 96.9,543.07 102.3,542.4 C107.7,541.73 104.57,541.2 111.8,539.4 C119.03,537.6 116.3,538.6 124,537 C131.7,535.4 128.13,535.93 134.9,534.6 C141.67,533.27 138.9,533.2 144.3,533 C149.7,532.8 146.13,532.33 151.1,534 C156.07,535.67 153.77,535.4 159.2,538 C164.63,540.6 162.43,540.43 167.4,541.8 C172.37,543.17 168.7,543.27 174.1,542.1 C179.5,540.93 176.8,541.23 183.6,538.3 C190.4,535.37 188.63,535.33 194.5,533.3 C200.37,531.27 196.7,532.2 201.2,532.2 C205.7,532.2 203,531.8 208,533.3 C213,534.8 208.97,533.77 216.2,536.7 C223.43,539.63 223.43,539.63 229.7,542.1 C235.97,544.57 229.63,541.47 235,544.1 C240.37,546.73 238.13,545.93 245.8,550 C253.47,554.07 249.87,551.03 258,556.3 C266.13,561.57 262.5,560.13 270.2,565.8 C277.9,571.47 273.87,567.87 281.1,573.3 C288.33,578.73 285.13,577.13 291.9,582.1 C298.67,587.07 295.07,585.03 301.4,588.2 C307.73,591.37 305.93,590.7 310.9,591.6 C315.87,592.5 311.8,592.73 316.3,590.9 C320.8,589.07 318.97,589.37 324.4,586.1 C329.83,582.83 327.17,583.8 332.6,581.1 C338.03,578.4 335.73,578.8 340.7,578 C345.67,577.2 342.07,576.9 347.5,578.7 C352.93,580.5 351.13,580.93 357,583.4 C362.87,585.87 358.8,584.73 365.1,586.1 C371.4,587.47 368.67,588.07 375.9,587.5 C383.13,586.93 379.57,586.8 386.8,584.4 C394.03,582 390.4,582.43 397.6,580.3 C404.8,578.17 402.53,578.53 408.4,578 C414.27,577.47 409.77,577.57 415.2,578.7 C420.63,579.83 419.77,580.27 424.7,581.4 C429.63,582.53 424.63,580.53 430,582.1 C435.37,583.67 433.57,583.87 440.8,586.1 C448.03,588.33 444.47,588.03 451.7,588.8 C458.93,589.57 455.27,588.17 462.5,588.4 C469.73,588.63 466.17,589.57 473.4,589.5 C480.63,589.43 477,589.47 484.2,588.2 C491.4,586.93 487.77,587.3 495,585.7 C502.23,584.1 498.67,585.3 505.9,583.4 C513.13,581.5 509.47,582.7 516.7,580 C523.93,577.3 521.27,578.1 527.6,575.3 C533.93,572.5 530.3,573.1 535.7,571.6 C541.1,570.1 535.67,571.07 543.8,570.8 C551.93,570.53 551.07,570.07 560.1,570.8 C569.13,571.53 563.67,571.27 570.9,573 C578.13,574.73 574.57,573.73 581.8,576 C589.03,578.27 585.4,577.47 592.6,579.8 C599.8,582.13 596.17,580.9 603.4,583 C610.63,585.1 607.1,584 614.3,586.1 C621.5,588.2 616.9,586.9 625,589.3 C633.1,591.7 631.37,591.97 638.6,593.3 C645.83,594.63 641.3,593.67 646.7,593.3 C652.1,592.93 648.47,593.23 654.8,592.2 C661.13,591.17 658.47,591.33 665.7,590.2 C672.93,589.07 670.63,589.47 676.5,588.8 C682.37,588.13 676.97,587.4 683.3,588.2 C689.63,589 689.63,590.2 695.5,591.2 C701.37,592.2 696.4,592 700.9,591.2 C705.4,590.4 703.6,590.37 709,588.8 C714.4,587.23 711.67,587.6 717.1,586.5 C722.53,585.4 719.87,585.77 725.3,585.5 C730.73,585.23 727.1,585.03 733.4,585.7 C739.7,586.37 737.43,586.67 744.2,587.5 C750.97,588.33 746.47,588.67 753.7,588.2 C760.93,587.73 759.13,587.37 765.9,586.1 C772.67,584.83 768.8,585.57 774,584.4 C779.2,583.23 779,583.2 781.5,582.6"/>
</g>
<text x="19.1" y="16.8" font-size="13.4" fill="#131722" font-weight="normal" textLength="36.1" lengthAdjust="spacingAndGlyphs" stroke="#131722" stroke-width="0.3">SYRUP</text>
<text x="69.8" y="16.8" font-size="13.4" fill="#131722" font-weight="normal" textLength="51.1" lengthAdjust="spacingAndGlyphs" stroke="#131722" stroke-width="0.3">TetherUS</text>
<text x="133.6" y="16.8" font-size="13.4" fill="#131722" font-weight="normal" textLength="14.3" lengthAdjust="spacingAndGlyphs" stroke="#131722" stroke-width="0.3">1D</text>
<text x="160.3" y="16.8" font-size="13.4" fill="#131722" font-weight="normal" textLength="44.3" lengthAdjust="spacingAndGlyphs" stroke="#131722" stroke-width="0.3">Binance</text>
<text x="62.35" y="16.8" font-size="13.4" fill="#131722" text-anchor="middle" font-weight="normal" letter-spacing="0" stroke="#131722" stroke-width="0.3">/</text>
<text x="126.9" y="16.8" font-size="13.4" fill="#131722" text-anchor="middle" font-weight="normal" letter-spacing="0" stroke="#131722" stroke-width="0.3">·</text>
<text x="153.65" y="16.8" font-size="13.4" fill="#131722" text-anchor="middle" font-weight="normal" letter-spacing="0" stroke="#131722" stroke-width="0.3">·</text>
<text x="211.5" y="16.8" font-size="13.4" textLength="47.1" lengthAdjust="spacingAndGlyphs" stroke-width="0.3"><tspan fill="#131722" stroke="#131722">O</tspan><tspan fill="#089981" stroke="#089981">0.4245</tspan></text>
<text x="266.2" y="16.8" font-size="13.4" textLength="46.7" lengthAdjust="spacingAndGlyphs" stroke-width="0.3"><tspan fill="#131722" stroke="#131722">H</tspan><tspan fill="#089981" stroke="#089981">0.4440</tspan></text>
<text x="320.4" y="16.8" font-size="13.4" textLength="44.3" lengthAdjust="spacingAndGlyphs" stroke-width="0.3"><tspan fill="#131722" stroke="#131722">L</tspan><tspan fill="#089981" stroke="#089981">0.4152</tspan></text>
<text x="371.9" y="16.8" font-size="13.4" textLength="45.6" lengthAdjust="spacingAndGlyphs" stroke-width="0.3"><tspan fill="#131722" stroke="#131722">C</tspan><tspan fill="#089981" stroke="#089981">0.4297</tspan></text>
<text x="425.6" y="16.8" font-size="13.4" fill="#089981" font-weight="normal" textLength="43.6" lengthAdjust="spacingAndGlyphs" stroke="#089981" stroke-width="0.3">+0.0051</text>
<text x="474.7" y="16.8" font-size="13.4" fill="#089981" font-weight="normal" textLength="47.5" lengthAdjust="spacingAndGlyphs" stroke="#089981" stroke-width="0.3">(+1.20%)</text>
<rect x="1459.5" y="-1.5" width="61" height="28.5" rx="5" fill="#fff" stroke="#ebebeb" stroke-width="1"/>
<text x="1469.2" y="17.7" font-size="12.7" fill="#131722" font-weight="normal" textLength="29.9" lengthAdjust="spacingAndGlyphs" stroke="#131722" stroke-width="0.3">USDT</text>
<defs><clipPath id="pa"><rect x="1455" y="0" width="70" height="336"/></clipPath></defs>
<g clip-path="url(#pa)">
<text x="1464.5" y="56.5" font-size="13" fill="#131722" text-anchor="start" font-weight="normal" letter-spacing="0" stroke="#131722" stroke-width="0.3">0.7000</text>
<text x="1464.5" y="96.5" font-size="13" fill="#131722" text-anchor="start" font-weight="normal" letter-spacing="0" stroke="#131722" stroke-width="0.3">0.6000</text>
<text x="1464.5" y="137" font-size="13" fill="#131722" text-anchor="start" font-weight="normal" letter-spacing="0" stroke="#131722" stroke-width="0.3">0.5000</text>
<text x="1464.5" y="256.8" font-size="13" fill="#131722" text-anchor="start" font-weight="normal" letter-spacing="0" stroke="#131722" stroke-width="0.3">0.2000</text>
<text x="1464.5" y="297" font-size="13" fill="#131722" text-anchor="start" font-weight="normal" letter-spacing="0" stroke="#131722" stroke-width="0.3">0.1000</text>
<text x="1464.5" y="336.8" font-size="13" fill="#131722" text-anchor="start" font-weight="normal" letter-spacing="0" stroke="#131722" stroke-width="0.3">0.0000</text>
<path d="M1456.3,52 H1506.8 a2,2 0 0 1 2,2 V67 a2,2 0 0 1 -2,2 H1456.3 Z" fill="#2962ff"/>
<text x="1465.2" y="65" font-size="13" fill="#fff" text-anchor="start" font-weight="normal" letter-spacing="0" stroke="#fff" stroke-width="0.1">0.6800</text>
<path d="M1456.3,112.1 H1506.8 a2,2 0 0 1 2,2 V126.8 a2,2 0 0 1 -2,2 H1456.3 Z" fill="#2962ff"/>
<text x="1465.2" y="124.95" font-size="13" fill="#fff" text-anchor="start" font-weight="normal" letter-spacing="0" stroke="#fff" stroke-width="0.1">0.5301</text>
<path d="M1456.3,151.7 H1517.5 a2,2 0 0 1 2,2 V182.5 a2,2 0 0 1 -2,2 H1456.3 Z" fill="#089981"/>
<text x="1465.5" y="165" font-size="13" fill="#fff" text-anchor="start" font-weight="normal" letter-spacing="0" stroke="#fff" stroke-width="0.1">0.4297</text>
<text x="1465.5" y="180.5" font-size="13" fill="#fff" text-anchor="start" font-weight="normal" letter-spacing="0" fill-opacity="0.85">14:44:56</text>
<path d="M1456.3,184.9 H1506.8 a2,2 0 0 1 2,2 V200 a2,2 0 0 1 -2,2 H1456.3 Z" fill="#ff0000"/>
<text x="1465.2" y="197.95" font-size="13" fill="#fff" text-anchor="start" font-weight="normal" letter-spacing="0" stroke="#fff" stroke-width="0.1">0.4039</text>
<path d="M1456.3,202.5 H1506.8 a2,2 0 0 1 2,2 V217.6 a2,2 0 0 1 -2,2 H1456.3 Z" fill="#f23645"/>
<text x="1465.2" y="215.55" font-size="13" fill="#fff" text-anchor="start" font-weight="normal" letter-spacing="0" stroke="#fff" stroke-width="0.1">0.3933</text>
</g>
<text x="1464.5" y="350.8" font-size="13" fill="#131722" text-anchor="start" font-weight="normal" letter-spacing="0" stroke="#131722" stroke-width="0.3">80.00</text>
<text x="1464.5" y="430" font-size="13" fill="#131722" text-anchor="start" font-weight="normal" letter-spacing="0" stroke="#131722" stroke-width="0.3">40.00</text>
<path d="M1456.3,380.1 H1500.2 a2,2 0 0 1 2,2 V395.7 a2,2 0 0 1 -2,2 H1456.3 Z" fill="#7e57c2"/>
<text x="1465.2" y="393.4" font-size="13" fill="#fff" text-anchor="start" font-weight="normal" letter-spacing="0" stroke="#fff" stroke-width="0.1">58.65</text>
<path d="M1456.3,401.4 H1500.2 a2,2 0 0 1 2,2 V416.7 a2,2 0 0 1 -2,2 H1456.3 Z" fill="#fdd835"/>
<text x="1465.2" y="414.55" font-size="13" fill="#131722" text-anchor="start" font-weight="normal" letter-spacing="0" stroke="#131722" stroke-width="0.3">47.82</text>
<text x="1464.3" y="479.6" font-size="13" fill="#131722" font-weight="normal" textLength="32.7" lengthAdjust="spacingAndGlyphs" stroke="#131722" stroke-width="0.3">200 M</text>
<path d="M1456.3,496.1 H1511.2 a2,2 0 0 1 2,2 V511.2 a2,2 0 0 1 -2,2 H1456.3 Z" fill="#26a69a"/>
<text x="1465.2" y="509.15" font-size="13" fill="#fff" text-anchor="start" font-weight="normal" letter-spacing="0" stroke="#fff" stroke-width="0.1"></text>
<text x="1465.2" y="509.15" font-size="13" fill="#fff" font-weight="normal" textLength="43.9" lengthAdjust="spacingAndGlyphs" stroke="#fff" stroke-width="0.1">15.12 M</text>
<text x="1464.5" y="529.8" font-size="13" fill="#131722" text-anchor="start" font-weight="normal" letter-spacing="0" stroke="#131722" stroke-width="0.3">0.0500</text>
<g clip-path="url(#ca)">
<path d="M1456.3,561.2 H1506.6 a2,2 0 0 1 2,2 V576.3 a2,2 0 0 1 -2,2 H1456.3 Z" fill="#26a69a"/>
<text x="1465.2" y="574.25" font-size="13" fill="#fff" text-anchor="start" font-weight="normal" letter-spacing="0" stroke="#fff" stroke-width="0.1">0.0071</text>
<path d="M1456.3,578.3 H1506.6 a2,2 0 0 1 2,2 V594.6 a2,2 0 0 1 -2,2 H1456.3 Z" fill="#2962ff"/>
<text x="1465.2" y="591.95" font-size="13" fill="#fff" text-anchor="start" font-weight="normal" letter-spacing="0" stroke="#fff" stroke-width="0.1">0.0014</text>
<path d="M1456.3,596.6 H1513.5 a2,2 0 0 1 2,2 V611.6 a2,2 0 0 1 -2,2 H1456.3 Z" fill="#ff6d00"/>
<text x="1465.2" y="609.6" font-size="13" fill="#fff" text-anchor="start" font-weight="normal" letter-spacing="0" stroke="#fff" stroke-width="0.1">−0.0057</text>
</g>
<text x="62.45" y="627.1" font-size="13" fill="#131722" text-anchor="middle" font-weight="normal" letter-spacing="0" stroke="#131722" stroke-width="0.3">Jun</text>
<text x="205.41" y="627.1" font-size="13" fill="#131722" text-anchor="middle" font-weight="normal" letter-spacing="0" stroke="#131722" stroke-width="0.3">Jul</text>
<text x="353.14" y="627.1" font-size="13" fill="#131722" text-anchor="middle" font-weight="normal" letter-spacing="0" stroke="#131722" stroke-width="0.3">Aug</text>
<text x="500.87" y="627.1" font-size="13" fill="#131722" text-anchor="middle" font-weight="normal" letter-spacing="0" stroke="#131722" stroke-width="0.3">Sep</text>
<text x="643.83" y="627.1" font-size="13" fill="#131722" text-anchor="middle" font-weight="normal" letter-spacing="0" stroke="#131722" stroke-width="0.3">Oct</text>
<text x="791.56" y="627.1" font-size="13" fill="#131722" text-anchor="middle" font-weight="normal" letter-spacing="0" stroke="#131722" stroke-width="0.3">Nov</text>
<text x="934.52" y="627.1" font-size="13" fill="#131722" text-anchor="middle" font-weight="normal" letter-spacing="0" stroke="#131722" stroke-width="0.3">Dec</text>
<text x="1082.25" y="627.1" font-size="13" fill="#131722" text-anchor="middle" font-weight="bold" letter-spacing="0">2026</text>
<text x="1229.98" y="627.1" font-size="13" fill="#131722" text-anchor="middle" font-weight="normal" letter-spacing="0" stroke="#131722" stroke-width="0.3">Feb</text>
<text x="1363.41" y="627.1" font-size="13" fill="#131722" text-anchor="middle" font-weight="normal" letter-spacing="0" stroke="#131722" stroke-width="0.3">Mar</text>
<path d="M13,660.8 H25.6 V676.7 H19.3 V667 H13 Z" fill="#131722"/>
<circle cx="31.2" cy="663.9" r="3.1" fill="#131722"/>
<path d="M37.8,660.8 H44.6 L38.8,676.7 H31.4 Z" fill="#131722"/>
<text x="52.2" y="676.7" font-size="22" fill="#131313" font-weight="bold" textLength="128.6" lengthAdjust="spacingAndGlyphs">TradingView</text>
</svg></body></html>
